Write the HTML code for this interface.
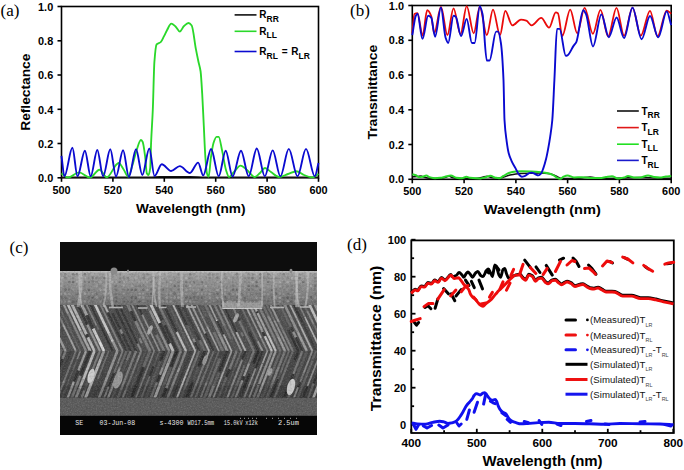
<!DOCTYPE html>
<html><head><meta charset="utf-8"><style>
html,body{margin:0;padding:0;background:#fff;overflow:hidden;width:684px;height:470px;}
svg{display:block;}
</style></head><body>
<svg width="684" height="470" viewBox="0 0 684 470">
<rect width="684" height="470" fill="#fff"/>
<g stroke="#000" stroke-width="1.6" fill="none">
<rect x="61.5" y="6.5" width="257.0" height="171.3"/>
<line x1="57.5" y1="177.8" x2="61.5" y2="177.8"/>
<line x1="57.5" y1="143.5" x2="61.5" y2="143.5"/>
<line x1="57.5" y1="109.3" x2="61.5" y2="109.3"/>
<line x1="57.5" y1="75.0" x2="61.5" y2="75.0"/>
<line x1="57.5" y1="40.8" x2="61.5" y2="40.8"/>
<line x1="57.5" y1="6.5" x2="61.5" y2="6.5"/>
<line x1="61.5" y1="177.8" x2="61.5" y2="181.8"/>
<line x1="112.9" y1="177.8" x2="112.9" y2="181.8"/>
<line x1="164.3" y1="177.8" x2="164.3" y2="181.8"/>
<line x1="215.7" y1="177.8" x2="215.7" y2="181.8"/>
<line x1="267.1" y1="177.8" x2="267.1" y2="181.8"/>
<line x1="318.5" y1="177.8" x2="318.5" y2="181.8"/>
</g>
<path d="M61.50,177.30 C91.00,177.27 120.50,177.29 150.00,177.20 C153.33,177.19 156.67,176.60 160.00,176.60 C170.00,176.60 180.00,176.60 190.00,176.60 C195.00,176.60 200.00,177.19 205.00,177.20 C242.83,177.29 280.67,177.27 318.50,177.30" stroke="#111" stroke-width="1.4" fill="none"/>
<path d="M61.50,173.40 C63.67,174.80 65.83,177.60 68.00,177.60 C71.67,177.60 75.33,172.30 79.00,172.30 C82.67,172.30 86.33,177.60 90.00,177.60 C93.17,177.60 96.33,169.70 99.50,169.70 C101.93,169.70 104.37,177.30 106.80,177.30 C110.20,177.30 113.60,166.23 117.00,163.90 C117.57,163.51 118.13,163.00 118.70,163.00 C120.40,163.00 122.10,167.33 123.80,169.80 C125.23,171.88 126.67,176.60 128.10,176.60 C129.57,176.60 131.03,169.48 132.50,165.00 C133.87,160.83 135.23,154.12 136.60,150.20 C138.03,146.09 139.47,140.00 140.90,140.00 C141.47,140.00 142.03,140.77 142.60,141.70 C143.43,143.06 144.27,149.98 145.10,156.20 C145.67,160.43 146.23,172.11 146.80,173.20 C147.37,174.29 147.93,175.00 148.50,175.00 C149.07,175.00 149.63,172.46 150.20,168.10 C150.50,165.79 150.80,149.62 151.10,142.60 C151.67,129.33 152.23,123.13 152.80,109.80 C153.33,97.26 153.87,68.81 154.40,61.90 C155.13,52.39 155.87,45.24 156.60,44.40 C157.97,42.83 159.33,43.29 160.70,42.10 C161.77,41.17 162.83,38.41 163.90,36.40 C164.97,34.39 166.03,31.87 167.10,30.00 C168.48,27.58 169.87,23.60 171.25,23.60 C172.67,23.60 174.08,25.27 175.50,26.50 C176.93,27.74 178.37,31.60 179.80,31.60 C181.20,31.60 182.60,27.25 184.00,26.00 C185.50,24.66 187.00,23.00 188.50,23.00 C189.57,23.00 190.63,24.08 191.70,25.50 C193.10,27.36 194.50,41.88 195.90,49.20 C196.77,53.73 197.63,57.92 198.50,62.00 C199.20,65.30 199.90,66.61 200.60,71.50 C201.13,75.23 201.67,85.04 202.20,93.80 C202.73,102.56 203.27,115.15 203.80,125.80 C204.33,136.45 204.87,150.63 205.40,157.70 C205.93,164.77 206.47,171.82 207.00,173.60 C207.53,175.38 208.07,176.80 208.60,176.80 C209.37,176.80 210.13,162.88 210.90,157.70 C211.77,151.85 212.63,145.65 213.50,143.00 C214.50,139.94 215.50,136.80 216.50,136.80 C217.23,136.80 217.97,136.80 218.70,136.80 C219.80,136.80 220.90,145.13 222.00,150.00 C223.33,155.90 224.67,165.83 226.00,170.00 C227.00,173.13 228.00,177.00 229.00,177.00 C230.67,177.00 232.33,173.64 234.00,172.00 C236.20,169.83 238.40,165.60 240.60,165.60 C242.73,165.60 244.87,168.36 247.00,170.00 C249.63,172.03 252.27,177.00 254.90,177.00 C256.60,177.00 258.30,174.50 260.00,173.00 C261.67,171.53 263.33,168.00 265.00,168.00 C267.00,168.00 269.00,170.71 271.00,172.00 C273.67,173.72 276.33,177.00 279.00,177.00 C282.00,177.00 285.00,174.99 288.00,174.00 C290.83,173.06 293.67,171.20 296.50,171.20 C299.00,171.20 301.50,174.03 304.00,175.00 C306.67,176.03 309.33,177.50 312.00,177.50 C314.17,177.50 316.33,175.17 318.50,174.00" stroke="#2ad82a" stroke-width="1.85" fill="none" stroke-linejoin="round"/>
<path d="M61.50,155.80 C62.47,162.63 63.43,176.30 64.40,176.30 C67.07,176.30 69.73,147.80 72.40,147.80 C74.10,147.80 75.80,176.30 77.50,176.30 C79.97,176.30 82.43,150.70 84.90,150.70 C86.83,150.70 88.77,176.30 90.70,176.30 C92.90,176.30 95.10,150.00 97.30,150.00 C99.23,150.00 101.17,176.30 103.10,176.30 C105.50,176.30 107.90,149.30 110.30,149.30 C112.20,149.30 114.10,176.50 116.00,176.50 C118.37,176.50 120.73,150.30 123.10,150.30 C125.03,150.30 126.97,177.00 128.90,177.00 C131.27,177.00 133.63,149.30 136.00,149.30 C138.10,149.30 140.20,175.00 142.30,175.00 C144.63,175.00 146.97,148.50 149.30,148.50 C151.03,148.50 152.77,176.00 154.50,176.00 C156.93,176.00 159.37,164.20 161.80,164.20 C164.90,164.20 168.00,171.00 171.10,171.00 C174.00,171.00 176.90,166.10 179.80,166.10 C183.17,166.10 186.53,173.00 189.90,173.00 C192.63,173.00 195.37,162.60 198.10,162.60 C199.80,162.60 201.50,175.40 203.20,175.40 C205.83,175.40 208.47,149.00 211.10,149.00 C213.63,149.00 216.17,176.30 218.70,176.30 C221.03,176.30 223.37,150.70 225.70,150.70 C228.00,150.70 230.30,176.50 232.60,176.50 C235.40,176.50 238.20,150.70 241.00,150.70 C243.57,150.70 246.13,176.30 248.70,176.30 C251.40,176.30 254.10,148.50 256.80,148.50 C259.47,148.50 262.13,176.30 264.80,176.30 C267.43,176.30 270.07,150.40 272.70,150.40 C275.27,150.40 277.83,176.30 280.40,176.30 C283.20,176.30 286.00,148.90 288.80,148.90 C291.70,148.90 294.60,176.30 297.50,176.30 C300.33,176.30 303.17,148.90 306.00,148.90 C308.93,148.90 311.87,176.30 314.80,176.30 C316.03,176.30 317.27,167.43 318.50,163.00" stroke="#0a0ad0" stroke-width="1.9" fill="none" stroke-linejoin="round"/>
<g font-family="Liberation Sans" font-weight="bold" font-size="10.9" fill="#000" text-anchor="end">
<text x="53.2" y="182.0">0.0</text>
<text x="53.2" y="147.7">0.2</text>
<text x="53.2" y="113.5">0.4</text>
<text x="53.2" y="79.2">0.6</text>
<text x="53.2" y="45.0">0.8</text>
<text x="53.2" y="10.7">1.0</text>
</g>
<g font-family="Liberation Sans" font-weight="bold" font-size="10.9" fill="#000" text-anchor="middle">
<text x="61.5" y="194">500</text>
<text x="112.9" y="194">520</text>
<text x="164.3" y="194">540</text>
<text x="215.7" y="194">560</text>
<text x="267.1" y="194">580</text>
<text x="318.5" y="194">600</text>
</g>
<text x="136" y="213" font-family="Liberation Sans" font-weight="bold" font-size="12.6" textLength="109.5" lengthAdjust="spacingAndGlyphs">Wavelength (nm)</text>
<text transform="translate(29.8,130.8) rotate(-90)" font-family="Liberation Sans" font-weight="bold" font-size="12.8" textLength="77.2" lengthAdjust="spacingAndGlyphs">Reflectance</text>
<text x="0.5" y="15.8" font-family="Liberation Serif" font-size="17">(a)</text>
<g stroke-width="1.6">
<line x1="234.6" y1="14.9" x2="256.5" y2="14.9" stroke="#111"/>
<line x1="234.6" y1="31.3" x2="256.5" y2="31.3" stroke="#2ad82a"/>
<line x1="234.6" y1="51.5" x2="256.5" y2="51.5" stroke="#0a0ad0"/>
</g>
<g font-family="Liberation Sans" font-weight="bold" fill="#000">
<text x="259.3" y="18.4" font-size="10">R<tspan font-size="8.5" dy="3.5">RR</tspan></text>
<text x="259.3" y="34.8" font-size="10">R<tspan font-size="8.5" dy="3.5">LL</tspan></text>
<text x="259.3" y="55" font-size="10">R<tspan font-size="8.5" dy="3.5">RL</tspan></text>
<text x="281.8" y="55" font-size="10">=</text>
<text x="291.3" y="55" font-size="10">R<tspan font-size="8.5" dy="3.5">LR</tspan></text>
</g>
<g stroke="#000" stroke-width="1.6" fill="none">
<rect x="412.3" y="5.5" width="258.9" height="173.8"/>
<line x1="408.3" y1="179.3" x2="412.3" y2="179.3"/>
<line x1="408.3" y1="144.5" x2="412.3" y2="144.5"/>
<line x1="408.3" y1="109.8" x2="412.3" y2="109.8"/>
<line x1="408.3" y1="75.0" x2="412.3" y2="75.0"/>
<line x1="408.3" y1="40.3" x2="412.3" y2="40.3"/>
<line x1="408.3" y1="5.5" x2="412.3" y2="5.5"/>
<line x1="412.3" y1="179.3" x2="412.3" y2="183.3"/>
<line x1="464.1" y1="179.3" x2="464.1" y2="183.3"/>
<line x1="515.9" y1="179.3" x2="515.9" y2="183.3"/>
<line x1="567.6" y1="179.3" x2="567.6" y2="183.3"/>
<line x1="619.4" y1="179.3" x2="619.4" y2="183.3"/>
<line x1="671.2" y1="179.3" x2="671.2" y2="183.3"/>
</g>
<path d="M412.30,176.80 C414.03,176.70 415.77,176.65 417.50,176.50 C418.67,176.40 419.83,176.00 421.00,176.00 C422.00,176.00 423.00,176.94 424.00,177.20 C426.00,177.72 428.00,178.26 430.00,178.30 C433.33,178.37 436.67,178.40 440.00,178.40 C442.17,178.40 444.33,177.52 446.50,177.00 C447.50,176.76 448.50,176.20 449.50,176.20 C450.33,176.20 451.17,177.33 452.00,177.50 C454.67,178.06 457.33,178.40 460.00,178.40 C465.00,178.40 470.00,178.40 475.00,178.40 C477.50,178.40 480.00,177.65 482.50,177.20 C484.00,176.93 485.50,176.30 487.00,176.30 C488.33,176.30 489.67,177.24 491.00,177.40 C494.00,177.75 497.00,178.00 500.00,178.00 C503.33,178.00 506.67,175.67 510.00,175.00 C513.33,174.33 516.67,173.66 520.00,173.50 C526.67,173.19 533.33,173.00 540.00,173.00 C543.33,173.00 546.67,173.34 550.00,173.80 C552.00,174.08 554.00,175.22 556.00,176.00 C558.00,176.78 560.00,178.50 562.00,178.50 C568.00,178.50 574.00,178.39 580.00,178.20 C583.33,178.09 586.67,177.00 590.00,177.00 C593.33,177.00 596.67,178.40 600.00,178.40 C606.67,178.40 613.33,178.16 620.00,178.00 C626.67,177.84 633.33,177.40 640.00,177.40 C646.67,177.40 653.33,178.20 660.00,178.20 C663.73,178.20 667.47,178.20 671.20,178.20" stroke="#111" stroke-width="1.5" fill="none"/>
<path d="M412.30,174.20 C413.47,174.57 414.63,174.84 415.80,175.30 C416.97,175.76 418.13,177.20 419.30,177.20 C420.37,177.20 421.43,176.99 422.50,176.80 C423.77,176.58 425.03,175.60 426.30,175.60 C427.53,175.60 428.77,176.97 430.00,177.30 C431.67,177.74 433.33,178.20 435.00,178.20 C436.80,178.20 438.60,178.00 440.40,177.80 C441.93,177.63 443.47,177.12 445.00,176.80 C446.97,176.39 448.93,175.60 450.90,175.60 C452.63,175.60 454.37,177.45 456.10,177.70 C458.07,177.98 460.03,178.20 462.00,178.20 C463.50,178.20 465.00,176.80 466.50,176.80 C467.67,176.80 468.83,177.64 470.00,177.80 C472.00,178.07 474.00,178.23 476.00,178.30 C477.57,178.35 479.13,178.40 480.70,178.40 C482.30,178.40 483.90,177.63 485.50,177.20 C487.13,176.76 488.77,175.80 490.40,175.80 C492.13,175.80 493.87,177.35 495.60,177.70 C496.77,177.93 497.93,178.20 499.10,178.20 C500.57,178.20 502.03,176.78 503.50,176.00 C505.27,175.06 507.03,173.53 508.80,173.00 C511.13,172.29 513.47,171.83 515.80,171.60 C517.80,171.40 519.80,171.20 521.80,171.20 C525.03,171.20 528.27,171.35 531.50,171.50 C534.73,171.65 537.97,171.95 541.20,172.30 C543.50,172.55 545.80,172.81 548.10,173.30 C549.97,173.70 551.83,174.50 553.70,175.40 C555.07,176.06 556.43,177.62 557.80,178.10 C558.73,178.43 559.67,178.80 560.60,178.80 C561.53,178.80 562.47,177.13 563.40,176.70 C564.77,176.07 566.13,175.40 567.50,175.40 C569.67,175.40 571.83,177.50 574.00,177.50 C576.67,177.50 579.33,177.20 582.00,177.20 C584.67,177.20 587.33,178.00 590.00,178.00 C593.33,178.00 596.67,178.00 600.00,178.00 C602.00,178.00 604.00,177.30 606.00,177.00 C608.00,176.70 610.00,176.20 612.00,176.20 C614.00,176.20 616.00,178.50 618.00,178.50 C620.00,178.50 622.00,177.97 624.00,177.50 C625.33,177.18 626.67,176.00 628.00,176.00 C630.00,176.00 632.00,177.50 634.00,177.50 C636.00,177.50 638.00,177.50 640.00,177.50 C642.67,177.50 645.33,175.50 648.00,175.50 C650.00,175.50 652.00,176.75 654.00,177.00 C656.00,177.25 658.00,177.50 660.00,177.50 C662.00,177.50 664.00,176.74 666.00,176.50 C667.73,176.29 669.47,176.17 671.20,176.00" stroke="#2ad82a" stroke-width="2" fill="none"/>
<path d="M412.30,33.30 C413.00,26.87 413.70,14.37 414.40,14.00 C415.43,13.45 416.47,13.20 417.50,13.20 C419.20,13.20 420.90,35.50 422.60,35.50 C424.13,35.50 425.67,10.20 427.20,10.20 C428.53,10.20 429.87,12.82 431.20,16.00 C432.20,18.39 433.20,33.30 434.20,33.30 C436.47,33.30 438.73,7.00 441.00,7.00 C443.13,7.00 445.27,35.10 447.40,35.10 C449.43,35.10 451.47,8.40 453.50,8.40 C455.83,8.40 458.17,34.20 460.50,34.20 C462.57,34.20 464.63,6.10 466.70,6.10 C469.03,6.10 471.37,33.30 473.70,33.30 C475.73,33.30 477.77,7.00 479.80,7.00 C482.13,7.00 484.47,35.10 486.80,35.10 C488.87,35.10 490.93,9.60 493.00,9.60 C495.33,9.60 497.67,35.10 500.00,35.10 C501.77,35.10 503.53,10.90 505.30,10.90 C507.63,10.90 509.97,25.40 512.30,25.40 C515.20,25.40 518.10,19.60 521.00,19.60 C522.77,19.60 524.53,20.11 526.30,20.70 C528.07,21.29 529.83,25.40 531.60,25.40 C534.80,25.40 538.00,17.90 541.20,17.90 C543.83,17.90 546.47,27.70 549.10,27.70 C551.33,27.70 553.57,12.30 555.80,12.30 C556.50,12.30 557.20,12.70 557.90,13.20 C559.37,14.26 560.83,36.00 562.30,36.00 C564.93,36.00 567.57,9.60 570.20,9.60 C572.53,9.60 574.87,33.30 577.20,33.30 C579.67,33.30 582.13,7.90 584.60,7.90 C587.37,7.90 590.13,33.80 592.90,33.80 C595.43,33.80 597.97,9.90 600.50,9.90 C603.03,9.90 605.57,36.50 608.10,36.50 C610.90,36.50 613.70,7.90 616.50,7.90 C619.03,7.90 621.57,35.70 624.10,35.70 C626.90,35.70 629.70,7.60 632.50,7.60 C635.27,7.60 638.03,35.70 640.80,35.70 C643.87,35.70 646.93,10.90 650.00,10.90 C652.50,10.90 655.00,36.50 657.50,36.50 C660.57,36.50 663.63,10.60 666.70,10.60 C668.20,10.60 669.70,12.67 671.20,13.70" stroke="#ea0a0a" stroke-width="1.8" fill="none" stroke-linejoin="round"/>
<path d="M412.30,35.10 C413.47,28.67 414.63,17.99 415.80,15.80 C416.37,14.73 416.93,13.70 417.50,13.70 C419.17,13.70 420.83,38.90 422.50,38.90 C424.37,38.90 426.23,15.80 428.10,15.80 C429.13,15.80 430.17,16.51 431.20,17.50 C432.50,18.75 433.80,36.80 435.10,36.80 C437.03,36.80 438.97,7.40 440.90,7.40 C442.47,7.40 444.03,33.08 445.60,37.70 C446.47,40.26 447.33,43.00 448.20,43.00 C449.97,43.00 451.73,15.80 453.50,15.80 C454.27,15.80 455.03,16.21 455.80,16.70 C457.53,17.81 459.27,36.00 461.00,36.00 C462.90,36.00 464.80,18.90 466.70,18.90 C468.43,18.90 470.17,43.00 471.90,43.00 C472.80,43.00 473.70,43.00 474.60,43.00 C476.33,43.00 478.07,6.10 479.80,6.10 C480.70,6.10 481.60,10.03 482.50,14.00 C483.93,20.32 485.37,60.50 486.80,60.50 C487.70,60.50 488.60,60.50 489.50,60.50 C491.70,60.50 493.90,31.60 496.10,31.60 C496.80,31.60 497.50,31.60 498.20,31.60 C499.10,31.60 500.00,37.12 500.90,43.00 C501.77,48.66 502.63,60.43 503.50,80.00 C503.83,87.53 504.17,114.30 504.50,120.00 C505.20,131.97 505.90,135.62 506.60,140.80 C507.30,145.98 508.00,150.55 508.70,153.20 C509.63,156.73 510.57,158.72 511.50,160.80 C512.87,163.85 514.23,165.90 515.60,168.40 C516.77,170.53 517.93,173.50 519.10,174.70 C520.00,175.63 520.90,176.70 521.80,176.70 C522.73,176.70 523.67,176.39 524.60,176.10 C526.00,175.66 527.40,173.81 528.80,173.30 C529.70,172.97 530.60,172.60 531.50,172.60 C532.67,172.60 533.83,173.53 535.00,174.00 C536.13,174.46 537.27,175.40 538.40,175.40 C539.33,175.40 540.27,174.39 541.20,173.30 C541.90,172.49 542.60,170.33 543.30,168.40 C544.23,165.83 545.17,162.59 546.10,158.80 C546.77,156.10 547.43,152.66 548.10,149.10 C548.80,145.36 549.50,141.35 550.20,136.60 C550.90,131.85 551.60,127.82 552.30,120.00 C553.00,112.18 553.70,93.53 554.40,80.00 C555.27,63.24 556.13,28.90 557.00,28.90 C557.87,28.90 558.73,28.90 559.60,28.90 C561.67,28.90 563.73,55.80 565.80,55.80 C566.37,55.80 566.93,55.55 567.50,55.30 C569.57,54.39 571.63,48.56 573.70,45.60 C574.57,44.36 575.43,43.76 576.30,42.10 C578.63,37.62 580.97,10.20 583.30,10.20 C584.20,10.20 585.10,12.20 586.00,14.00 C588.33,18.67 590.67,46.50 593.00,46.50 C595.80,46.50 598.60,14.40 601.40,14.40 C603.87,14.40 606.33,37.20 608.80,37.20 C611.40,37.20 614.00,17.50 616.60,17.50 C619.10,17.50 621.60,38.00 624.10,38.00 C626.90,38.00 629.70,7.60 632.50,7.60 C635.53,7.60 638.57,39.20 641.60,39.20 C644.40,39.20 647.20,16.00 650.00,16.00 C652.77,16.00 655.53,37.30 658.30,37.30 C661.10,37.30 663.90,11.40 666.70,11.40 C668.20,11.40 669.70,20.53 671.20,25.10" stroke="#0a0ad0" stroke-width="1.9" fill="none" stroke-linejoin="round"/>
<g font-family="Liberation Sans" font-weight="bold" font-size="10.9" fill="#000" text-anchor="end">
<text x="404" y="183.4">0.0</text>
<text x="404" y="148.6">0.2</text>
<text x="404" y="113.9">0.4</text>
<text x="404" y="79.1">0.6</text>
<text x="404" y="44.4">0.8</text>
<text x="404" y="9.6">1.0</text>
</g>
<g font-family="Liberation Sans" font-weight="bold" font-size="10.9" fill="#000" text-anchor="middle">
<text x="412.3" y="194.9">500</text>
<text x="464.1" y="194.9">520</text>
<text x="515.9" y="194.9">540</text>
<text x="567.6" y="194.9">560</text>
<text x="619.4" y="194.9">580</text>
<text x="671.2" y="194.9">600</text>
</g>
<text x="483.8" y="214.4" font-family="Liberation Sans" font-weight="bold" font-size="13.2" textLength="117" lengthAdjust="spacingAndGlyphs">Wavelength (nm)</text>
<text transform="translate(376.9,139.6) rotate(-90)" font-family="Liberation Sans" font-weight="bold" font-size="13.4" textLength="94.8" lengthAdjust="spacingAndGlyphs">Transmittance</text>
<text x="350.1" y="16" font-family="Liberation Serif" font-size="17">(b)</text>
<g stroke-width="1.6">
<line x1="617" y1="111" x2="638.8" y2="111" stroke="#111"/>
<line x1="617" y1="127.6" x2="638.8" y2="127.6" stroke="#e01818"/>
<line x1="617" y1="144.2" x2="638.8" y2="144.2" stroke="#22e022"/>
<line x1="617" y1="160.4" x2="638.8" y2="160.4" stroke="#1a1acc"/>
</g>
<g font-family="Liberation Sans" font-weight="bold" fill="#000">
<text x="641.5" y="114.6" font-size="10">T<tspan font-size="8.5" dy="3.5">RR</tspan></text>
<text x="641.5" y="131.2" font-size="10">T<tspan font-size="8.5" dy="3.5">LR</tspan></text>
<text x="641.5" y="147.8" font-size="10">T<tspan font-size="8.5" dy="3.5">LL</tspan></text>
<text x="641.5" y="164.0" font-size="10">T<tspan font-size="8.5" dy="3.5">RL</tspan></text>
</g>
<g stroke="#000" stroke-width="1.8" fill="none">
<rect x="411.3" y="240.4" width="262.5" height="192.6"/>
<line x1="411.3" y1="424.7" x2="415.5" y2="424.7"/>
<line x1="411.3" y1="406.2" x2="414.1" y2="406.2"/>
<line x1="411.3" y1="387.7" x2="415.5" y2="387.7"/>
<line x1="411.3" y1="369.2" x2="414.1" y2="369.2"/>
<line x1="411.3" y1="350.7" x2="415.5" y2="350.7"/>
<line x1="411.3" y1="332.2" x2="414.1" y2="332.2"/>
<line x1="411.3" y1="313.7" x2="415.5" y2="313.7"/>
<line x1="411.3" y1="295.2" x2="414.1" y2="295.2"/>
<line x1="411.3" y1="276.7" x2="415.5" y2="276.7"/>
<line x1="411.3" y1="258.2" x2="414.1" y2="258.2"/>
<line x1="411.3" y1="239.7" x2="415.5" y2="239.7"/>
<line x1="411.3" y1="433.0" x2="411.3" y2="428.8"/>
<line x1="444.1" y1="433.0" x2="444.1" y2="430.2"/>
<line x1="476.8" y1="433.0" x2="476.8" y2="428.8"/>
<line x1="509.6" y1="433.0" x2="509.6" y2="430.2"/>
<line x1="542.3" y1="433.0" x2="542.3" y2="428.8"/>
<line x1="575.0" y1="433.0" x2="575.0" y2="430.2"/>
<line x1="607.8" y1="433.0" x2="607.8" y2="428.8"/>
<line x1="640.5" y1="433.0" x2="640.5" y2="430.2"/>
<line x1="673.3" y1="433.0" x2="673.3" y2="428.8"/>
</g>
<path d="M411.20,292.70 C412.50,291.57 413.80,289.30 415.10,289.30 C415.97,289.30 416.83,290.20 417.70,290.20 C418.83,290.20 419.97,285.90 421.10,285.90 C422.23,285.90 423.37,286.40 424.50,286.40 C425.63,286.40 426.77,282.50 427.90,282.50 C429.03,282.50 430.17,283.40 431.30,283.40 C432.43,283.40 433.57,280.00 434.70,280.00 C435.83,280.00 436.97,281.70 438.10,281.70 C439.23,281.70 440.37,277.40 441.50,277.40 C442.63,277.40 443.77,280.00 444.90,280.00 C446.90,280.00 448.90,274.50 450.90,274.50 C451.27,274.50 451.63,276.50 452.00,276.50 C453.40,276.50 454.80,276.06 456.20,275.50 C457.17,275.11 458.13,272.50 459.10,272.50 C460.07,272.50 461.03,273.91 462.00,274.90 C462.60,275.51 463.20,277.20 463.80,277.20 C464.57,277.20 465.33,274.59 466.10,273.70 C466.70,273.01 467.30,272.00 467.90,272.00 C468.67,272.00 469.43,273.44 470.20,274.30 C470.97,275.16 471.73,277.20 472.50,277.20 C473.50,277.20 474.50,274.05 475.50,273.10 C476.27,272.37 477.03,271.40 477.80,271.40 C478.77,271.40 479.73,274.84 480.70,275.50 C481.50,276.05 482.30,276.60 483.10,276.60 C484.07,276.60 485.03,272.66 486.00,271.40 C486.77,270.40 487.53,269.00 488.30,269.00 C489.10,269.00 489.90,271.60 490.70,273.10 C491.27,274.16 491.83,276.60 492.40,276.60 C493.20,276.60 494.00,264.90 494.80,264.90 C495.37,264.90 495.93,266.01 496.50,267.00 C497.30,268.40 498.10,273.40 498.90,274.90 C499.47,275.96 500.03,277.20 500.60,277.20 C501.40,277.20 502.20,270.43 503.00,269.60 C503.57,269.01 504.13,268.50 504.70,268.50 C505.30,268.50 505.90,272.25 506.50,273.70 C507.27,275.55 508.03,278.40 508.80,278.40 C509.57,278.40 510.33,277.58 511.10,277.20 C512.57,276.47 514.03,275.51 515.50,275.10 C517.03,274.67 518.57,274.20 520.10,274.20 C520.93,274.20 521.77,276.47 522.60,277.20 C523.63,278.10 524.67,279.30 525.70,279.30 C526.73,279.30 527.77,274.20 528.80,274.20 C530.00,274.20 531.20,274.90 532.40,275.70 C533.40,276.37 534.40,280.30 535.40,280.30 C536.43,280.30 537.47,278.12 538.50,277.80 C539.53,277.48 540.57,277.20 541.60,277.20 C542.80,277.20 544.00,280.44 545.20,281.30 C546.20,282.02 547.20,282.90 548.20,282.90 C549.57,282.90 550.93,280.15 552.30,279.80 C553.33,279.53 554.37,279.30 555.40,279.30 C556.43,279.30 557.47,281.13 558.50,281.90 C559.50,282.64 560.50,283.90 561.50,283.90 C563.33,283.90 565.17,281.10 567.00,281.10 C568.33,281.10 569.67,281.93 571.00,282.60 C572.33,283.27 573.67,285.60 575.00,285.60 C576.67,285.60 578.33,284.45 580.00,284.10 C581.00,283.89 582.00,283.60 583.00,283.60 C584.33,283.60 585.67,285.36 587.00,286.10 C588.00,286.65 589.00,287.39 590.00,287.60 C591.33,287.87 592.67,288.10 594.00,288.10 C595.33,288.10 596.67,287.10 598.00,287.10 C599.33,287.10 600.67,288.43 602.00,289.10 C603.33,289.77 604.67,291.10 606.00,291.10 C608.00,291.10 610.00,291.10 612.00,291.10 C613.00,291.10 614.00,291.25 615.00,291.40 C617.57,291.79 620.13,295.20 622.70,295.20 C625.67,295.20 628.63,295.20 631.60,295.20 C634.57,295.20 637.53,297.70 640.50,297.70 C643.07,297.70 645.63,297.70 648.20,297.70 C650.77,297.70 653.33,298.48 655.90,299.00 C658.43,299.51 660.97,300.33 663.50,300.90 C666.83,301.64 670.17,302.23 673.50,302.90" stroke="#000" stroke-width="2.9" fill="none" stroke-linejoin="round"/>
<path d="M411.20,293.40 C412.50,292.27 413.80,290.00 415.10,290.00 C415.97,290.00 416.83,290.90 417.70,290.90 C418.83,290.90 419.97,286.60 421.10,286.60 C422.23,286.60 423.37,287.10 424.50,287.10 C425.63,287.10 426.77,283.20 427.90,283.20 C429.03,283.20 430.17,284.10 431.30,284.10 C432.43,284.10 433.57,280.70 434.70,280.70 C435.83,280.70 436.97,282.40 438.10,282.40 C439.23,282.40 440.37,278.10 441.50,278.10 C442.63,278.10 443.77,280.70 444.90,280.70 C446.90,280.70 448.90,275.20 450.90,275.20 C452.03,275.20 453.17,278.60 454.30,278.60 C455.70,278.60 457.10,277.80 458.50,277.80 C459.27,277.80 460.03,279.20 460.80,280.10 C461.70,281.16 462.60,282.93 463.50,284.00 C464.57,285.27 465.63,286.00 466.70,287.20 C467.47,288.06 468.23,288.69 469.00,290.10 C469.40,290.83 469.80,292.77 470.20,293.60 C470.97,295.19 471.73,296.31 472.50,297.10 C473.50,298.13 474.50,298.42 475.50,299.40 C476.27,300.15 477.03,301.53 477.80,302.40 C478.77,303.50 479.73,304.74 480.70,305.30 C481.50,305.76 482.30,306.30 483.10,306.30 C483.87,306.30 484.63,304.77 485.40,304.10 C486.37,303.26 487.33,302.57 488.30,301.80 C489.30,301.00 490.30,300.36 491.30,299.40 C492.27,298.47 493.23,297.07 494.20,295.90 C495.17,294.73 496.13,293.46 497.10,292.40 C498.27,291.12 499.43,290.07 500.60,288.90 C501.77,287.73 502.93,286.57 504.10,285.40 C505.27,284.23 506.43,283.07 507.60,281.90 C508.77,280.73 509.93,279.41 511.10,278.40 C512.57,277.14 514.03,275.10 515.50,275.10 C517.03,275.10 518.57,275.10 520.10,275.10 C520.93,275.10 521.77,277.37 522.60,278.10 C523.63,279.00 524.67,280.20 525.70,280.20 C526.73,280.20 527.77,275.10 528.80,275.10 C530.00,275.10 531.20,275.80 532.40,276.60 C533.40,277.27 534.40,281.20 535.40,281.20 C536.43,281.20 537.47,279.02 538.50,278.70 C539.53,278.38 540.57,278.10 541.60,278.10 C542.80,278.10 544.00,281.34 545.20,282.20 C546.20,282.92 547.20,283.80 548.20,283.80 C549.57,283.80 550.93,281.05 552.30,280.70 C553.33,280.43 554.37,280.20 555.40,280.20 C556.43,280.20 557.47,282.03 558.50,282.80 C559.50,283.54 560.50,284.80 561.50,284.80 C563.33,284.80 565.17,282.00 567.00,282.00 C568.33,282.00 569.67,282.83 571.00,283.50 C572.33,284.17 573.67,286.50 575.00,286.50 C576.67,286.50 578.33,285.35 580.00,285.00 C581.00,284.79 582.00,284.50 583.00,284.50 C584.33,284.50 585.67,286.26 587.00,287.00 C588.00,287.55 589.00,288.29 590.00,288.50 C591.33,288.77 592.67,289.00 594.00,289.00 C595.33,289.00 596.67,288.00 598.00,288.00 C599.33,288.00 600.67,289.33 602.00,290.00 C603.33,290.67 604.67,292.00 606.00,292.00 C608.00,292.00 610.00,292.00 612.00,292.00 C613.00,292.00 614.00,292.15 615.00,292.30 C617.57,292.69 620.13,296.10 622.70,296.10 C625.67,296.10 628.63,296.10 631.60,296.10 C634.57,296.10 637.53,298.60 640.50,298.60 C643.07,298.60 645.63,298.60 648.20,298.60 C650.77,298.60 653.33,299.38 655.90,299.90 C658.43,300.41 660.97,301.23 663.50,301.80 C666.83,302.54 670.17,303.13 673.50,303.80" stroke="#ee0c0c" stroke-width="2.9" fill="none" stroke-linejoin="round"/>
<path d="M414.4,322.5 L416.5,325.2 L418.6,322.5" stroke="#000" stroke-width="3.0" fill="none" stroke-linecap="round" stroke-linejoin="round"/>
<path d="M425.0,307.5 L428.0,305.8 L430.9,308.7" stroke="#000" stroke-width="3.0" fill="none" stroke-linecap="round" stroke-linejoin="round"/>
<path d="M435.1,308.2 L437.8,299.1" stroke="#000" stroke-width="3.0" fill="none" stroke-linecap="round" stroke-linejoin="round"/>
<path d="M443.6,288.5 L448.4,293.8" stroke="#000" stroke-width="3.0" fill="none" stroke-linecap="round" stroke-linejoin="round"/>
<path d="M451.1,293.8 L454.8,300.7" stroke="#000" stroke-width="3.0" fill="none" stroke-linecap="round" stroke-linejoin="round"/>
<path d="M456.0,296.0 L461.2,289.6" stroke="#000" stroke-width="3.0" fill="none" stroke-linecap="round" stroke-linejoin="round"/>
<path d="M465.5,280.1 L469.0,285.4" stroke="#000" stroke-width="3.0" fill="none" stroke-linecap="round" stroke-linejoin="round"/>
<path d="M471.4,281.3 L474.3,287.7" stroke="#000" stroke-width="3.0" fill="none" stroke-linecap="round" stroke-linejoin="round"/>
<path d="M479.0,280.1 L482.5,288.9" stroke="#000" stroke-width="3.0" fill="none" stroke-linecap="round" stroke-linejoin="round"/>
<path d="M486.0,271.0 L489.0,273.0" stroke="#000" stroke-width="3.0" fill="none" stroke-linecap="round" stroke-linejoin="round"/>
<path d="M496.0,266.0 L499.0,270.0" stroke="#000" stroke-width="3.0" fill="none" stroke-linecap="round" stroke-linejoin="round"/>
<path d="M524.7,260.2 L530.3,267.4" stroke="#000" stroke-width="3.0" fill="none" stroke-linecap="round" stroke-linejoin="round"/>
<path d="M536.0,266.9 L540.0,272.5" stroke="#000" stroke-width="3.0" fill="none" stroke-linecap="round" stroke-linejoin="round"/>
<path d="M546.2,265.4 L552.3,275.1" stroke="#000" stroke-width="3.0" fill="none" stroke-linecap="round" stroke-linejoin="round"/>
<path d="M559.5,260.2 L563.6,258.2" stroke="#000" stroke-width="3.0" fill="none" stroke-linecap="round" stroke-linejoin="round"/>
<path d="M573.0,258.0 L576.0,261.0 L579.0,266.5" stroke="#000" stroke-width="3.0" fill="none" stroke-linecap="round" stroke-linejoin="round"/>
<path d="M588.5,265.0 L592.0,268.5 L596.0,274.2" stroke="#000" stroke-width="3.0" fill="none" stroke-linecap="round" stroke-linejoin="round"/>
<path d="M610.0,261.5 L612.5,263.0" stroke="#000" stroke-width="3.0" fill="none" stroke-linecap="round" stroke-linejoin="round"/>
<path d="M624.0,257.5 L627.8,259.3" stroke="#000" stroke-width="3.0" fill="none" stroke-linecap="round" stroke-linejoin="round"/>
<path d="M645.0,266.5 L648.2,268.9" stroke="#000" stroke-width="3.0" fill="none" stroke-linecap="round" stroke-linejoin="round"/>
<path d="M667.0,263.8 L671.0,263.3" stroke="#000" stroke-width="3.0" fill="none" stroke-linecap="round" stroke-linejoin="round"/>
<path d="M411.2,321.5 L415.0,320.3 L420.2,318.6" stroke="#ee0c0c" stroke-width="3.0" fill="none" stroke-linecap="round" stroke-linejoin="round"/>
<path d="M424.0,306.6 L428.2,303.6 L433.0,303.6" stroke="#ee0c0c" stroke-width="3.0" fill="none" stroke-linecap="round" stroke-linejoin="round"/>
<path d="M437.8,299.1 L444.2,289.6" stroke="#ee0c0c" stroke-width="3.0" fill="none" stroke-linecap="round" stroke-linejoin="round"/>
<path d="M450.6,296.0 L455.9,290.1" stroke="#ee0c0c" stroke-width="3.0" fill="none" stroke-linecap="round" stroke-linejoin="round"/>
<path d="M461.2,291.7 L464.5,287.5 L468.0,285.5" stroke="#ee0c0c" stroke-width="3.0" fill="none" stroke-linecap="round" stroke-linejoin="round"/>
<path d="M473.7,297.1 L476.6,300.6" stroke="#ee0c0c" stroke-width="3.0" fill="none" stroke-linecap="round" stroke-linejoin="round"/>
<path d="M481.0,304.0 L486.0,303.0" stroke="#ee0c0c" stroke-width="3.0" fill="none" stroke-linecap="round" stroke-linejoin="round"/>
<path d="M489.5,297.1 L492.4,292.4" stroke="#ee0c0c" stroke-width="3.0" fill="none" stroke-linecap="round" stroke-linejoin="round"/>
<path d="M500.0,288.9 L503.0,281.9" stroke="#ee0c0c" stroke-width="3.0" fill="none" stroke-linecap="round" stroke-linejoin="round"/>
<path d="M506.5,290.1 L510.0,283.1" stroke="#ee0c0c" stroke-width="3.0" fill="none" stroke-linecap="round" stroke-linejoin="round"/>
<path d="M510.8,275.6 L513.6,269.4" stroke="#ee0c0c" stroke-width="3.0" fill="none" stroke-linecap="round" stroke-linejoin="round"/>
<path d="M519.6,274.6 L523.1,264.3" stroke="#ee0c0c" stroke-width="3.0" fill="none" stroke-linecap="round" stroke-linejoin="round"/>
<path d="M530.3,267.4 L535.9,273.5" stroke="#ee0c0c" stroke-width="3.0" fill="none" stroke-linecap="round" stroke-linejoin="round"/>
<path d="M543.1,274.6 L547.2,268.4" stroke="#ee0c0c" stroke-width="3.0" fill="none" stroke-linecap="round" stroke-linejoin="round"/>
<path d="M555.4,271.5 L560.5,261.3" stroke="#ee0c0c" stroke-width="3.0" fill="none" stroke-linecap="round" stroke-linejoin="round"/>
<path d="M567.0,265.0 L572.0,260.5 L575.0,261.5" stroke="#ee0c0c" stroke-width="3.0" fill="none" stroke-linecap="round" stroke-linejoin="round"/>
<path d="M584.5,268.5 L589.0,268.0 L593.0,271.5 L595.5,274.2" stroke="#ee0c0c" stroke-width="3.0" fill="none" stroke-linecap="round" stroke-linejoin="round"/>
<path d="M602.5,266.0 L607.0,261.0 L612.0,262.5" stroke="#ee0c0c" stroke-width="3.0" fill="none" stroke-linecap="round" stroke-linejoin="round"/>
<path d="M622.7,257.1 L627.8,259.0 L632.9,262.9" stroke="#ee0c0c" stroke-width="3.0" fill="none" stroke-linecap="round" stroke-linejoin="round"/>
<path d="M643.7,265.4 L648.2,268.6 L652.7,271.2" stroke="#ee0c0c" stroke-width="3.0" fill="none" stroke-linecap="round" stroke-linejoin="round"/>
<path d="M664.8,264.2 L668.6,262.9 L673.7,262.2" stroke="#ee0c0c" stroke-width="3.0" fill="none" stroke-linecap="round" stroke-linejoin="round"/>
<path d="M411.70,422.90 C413.57,423.23 415.43,423.78 417.30,423.90 C420.03,424.07 422.77,424.20 425.50,424.20 C427.87,424.20 430.23,422.88 432.60,422.40 C435.00,421.92 437.40,421.20 439.80,421.20 C441.17,421.20 442.53,421.58 443.90,421.90 C445.27,422.22 446.63,423.40 448.00,423.40 C449.33,423.40 450.67,423.08 452.00,422.80 C453.00,422.59 454.00,422.28 455.00,421.80 C455.97,421.34 456.93,420.40 457.90,419.40 C458.83,418.44 459.77,416.99 460.70,415.60 C461.67,414.16 462.63,412.46 463.60,410.80 C464.57,409.14 465.53,406.97 466.50,405.60 C467.47,404.23 468.43,403.34 469.40,402.20 C470.33,401.10 471.27,400.24 472.20,398.90 C472.83,397.99 473.47,396.29 474.10,395.50 C474.77,394.67 475.43,393.60 476.10,393.60 C476.73,393.60 477.37,393.91 478.00,394.10 C478.80,394.35 479.60,395.00 480.40,395.00 C481.20,395.00 482.00,393.36 482.80,393.10 C483.43,392.89 484.07,392.70 484.70,392.70 C485.33,392.70 485.97,393.85 486.60,394.60 C487.23,395.35 487.87,396.62 488.50,397.40 C489.13,398.18 489.77,399.04 490.40,399.40 C491.20,399.85 492.00,400.30 492.80,400.30 C493.60,400.30 494.40,399.40 495.20,399.40 C495.67,399.40 496.13,400.44 496.60,401.30 C497.10,402.22 497.60,404.41 498.10,405.60 C498.73,407.10 499.37,408.52 500.00,409.40 C500.93,410.70 501.87,411.68 502.80,412.30 C503.77,412.94 504.73,412.96 505.70,413.70 C506.33,414.18 506.97,415.65 507.60,416.60 C508.23,417.55 508.87,418.79 509.50,419.40 C510.47,420.33 511.43,420.96 512.40,421.40 C513.60,421.95 514.80,422.25 516.00,422.60 C517.57,423.06 519.13,423.80 520.70,423.80 C523.03,423.80 525.37,423.63 527.70,423.50 C531.20,423.30 534.70,422.75 538.20,422.60 C541.73,422.45 545.27,422.30 548.80,422.30 C552.53,422.30 556.27,423.50 560.00,423.50 C565.00,423.50 570.00,423.50 575.00,423.50 C580.00,423.50 585.00,423.69 590.00,423.80 C595.00,423.91 600.00,424.20 605.00,424.20 C610.00,424.20 615.00,423.50 620.00,423.50 C626.67,423.50 633.33,423.72 640.00,423.80 C646.67,423.88 653.33,423.88 660.00,424.00 C664.50,424.08 669.00,424.53 673.50,424.80" stroke="#1010ee" stroke-width="2.9" fill="none" stroke-linejoin="round"/>
<path d="M413.5,424.5 L416.0,429.3 L418.5,425.0" stroke="#1010ee" stroke-width="3.0" fill="none" stroke-linecap="round" stroke-linejoin="round"/>
<path d="M423.4,426.0 L427.0,428.0 L431.6,425.5" stroke="#1010ee" stroke-width="3.0" fill="none" stroke-linecap="round" stroke-linejoin="round"/>
<path d="M438.8,425.0 L443.0,428.0 L448.0,425.0" stroke="#1010ee" stroke-width="3.0" fill="none" stroke-linecap="round" stroke-linejoin="round"/>
<path d="M456.9,423.0 L459.0,426.0 L461.2,424.0" stroke="#1010ee" stroke-width="3.0" fill="none" stroke-linecap="round" stroke-linejoin="round"/>
<path d="M466.8,419.4 L469.4,410.0" stroke="#1010ee" stroke-width="3.0" fill="none" stroke-linecap="round" stroke-linejoin="round"/>
<path d="M474.1,412.3 L477.5,402.2" stroke="#1010ee" stroke-width="3.0" fill="none" stroke-linecap="round" stroke-linejoin="round"/>
<path d="M483.6,404.1 L485.6,394.6" stroke="#1010ee" stroke-width="3.0" fill="none" stroke-linecap="round" stroke-linejoin="round"/>
<path d="M490.4,401.3 L493.0,402.8 L495.2,403.7" stroke="#1010ee" stroke-width="3.0" fill="none" stroke-linecap="round" stroke-linejoin="round"/>
<path d="M501.9,412.8 L505.7,415.6" stroke="#1010ee" stroke-width="3.0" fill="none" stroke-linecap="round" stroke-linejoin="round"/>
<path d="M507.2,419.4 L510.5,422.3" stroke="#1010ee" stroke-width="3.0" fill="none" stroke-linecap="round" stroke-linejoin="round"/>
<path d="M524.2,421.5 L528.6,422.6" stroke="#1010ee" stroke-width="3.0" fill="none" stroke-linecap="round" stroke-linejoin="round"/>
<path d="M539.1,420.5 L541.8,424.4" stroke="#1010ee" stroke-width="3.0" fill="none" stroke-linecap="round" stroke-linejoin="round"/>
<path d="M557.0,424.0 L561.0,425.5" stroke="#1010ee" stroke-width="3.0" fill="none" stroke-linecap="round" stroke-linejoin="round"/>
<path d="M586.5,421.5 L591.0,420.5" stroke="#1010ee" stroke-width="3.0" fill="none" stroke-linecap="round" stroke-linejoin="round"/>
<path d="M605.0,424.0 L609.0,424.5" stroke="#1010ee" stroke-width="3.0" fill="none" stroke-linecap="round" stroke-linejoin="round"/>
<path d="M640.0,422.0 L645.0,421.5" stroke="#1010ee" stroke-width="3.0" fill="none" stroke-linecap="round" stroke-linejoin="round"/>
<path d="M665.0,424.5 L671.0,426.0" stroke="#1010ee" stroke-width="3.0" fill="none" stroke-linecap="round" stroke-linejoin="round"/>
<g font-family="Liberation Sans" font-weight="bold" font-size="11" fill="#000" text-anchor="end">
<text x="406.2" y="428.6">0</text>
<text x="406.2" y="391.6">20</text>
<text x="406.2" y="354.6">40</text>
<text x="406.2" y="317.6">60</text>
<text x="406.2" y="280.6">80</text>
<text x="406.2" y="243.6">100</text>
</g>
<g font-family="Liberation Sans" font-weight="bold" font-size="11.8" fill="#000" text-anchor="middle">
<text x="411.3" y="447">400</text>
<text x="476.8" y="447">500</text>
<text x="542.3" y="447">600</text>
<text x="607.8" y="447">700</text>
<text x="673.3" y="447">800</text>
</g>
<text x="482.6" y="466" font-family="Liberation Sans" font-weight="bold" font-size="15" textLength="120" lengthAdjust="spacingAndGlyphs">Wavelength (nm)</text>
<text transform="translate(380.9,411.2) rotate(-90)" font-family="Liberation Sans" font-weight="bold" font-size="15.2" textLength="145.4" lengthAdjust="spacingAndGlyphs">Transmittance (nm)</text>
<text x="347" y="249.5" font-family="Liberation Serif" font-size="17">(d)</text>
<line x1="566" y1="319.9" x2="575.5" y2="319.9" stroke="#000" stroke-width="3" stroke-linecap="round"/>
<circle cx="587.4" cy="319.9" r="1.4" fill="#000"/>
<text x="590" y="323.4" font-family="Liberation Sans" font-size="9.6" fill="#111" letter-spacing="0.05">(Measured)T<tspan font-size="5.4" dy="3.5" fill="#444">LR</tspan></text>
<line x1="566" y1="335.1" x2="575.5" y2="335.1" stroke="#ee1111" stroke-width="3" stroke-linecap="round"/>
<circle cx="587.4" cy="335.1" r="1.4" fill="#ee1111"/>
<text x="590" y="338.6" font-family="Liberation Sans" font-size="9.6" fill="#111" letter-spacing="0.05">(Measured)T<tspan font-size="5.4" dy="3.5" fill="#444">RL</tspan></text>
<line x1="566" y1="349.8" x2="575.5" y2="349.8" stroke="#1515ee" stroke-width="3" stroke-linecap="round"/>
<circle cx="587.4" cy="349.8" r="1.4" fill="#1515ee"/>
<text x="590" y="353.3" font-family="Liberation Sans" font-size="9.6" fill="#111" letter-spacing="0.05">(Measured)T<tspan font-size="5.4" dy="3.5" fill="#444">LR</tspan><tspan dy="-3.5">-T</tspan><tspan font-size="5.4" dy="3.5" fill="#444">RL</tspan></text>
<line x1="565.5" y1="364.3" x2="587.5" y2="364.3" stroke="#000" stroke-width="3"/>
<text x="590" y="367.8" font-family="Liberation Sans" font-size="9.6" fill="#111" letter-spacing="0.05">(Simulated)T<tspan font-size="5.4" dy="3.5" fill="#444">LR</tspan></text>
<line x1="565.5" y1="379.5" x2="587.5" y2="379.5" stroke="#ee1111" stroke-width="3"/>
<text x="590" y="383.0" font-family="Liberation Sans" font-size="9.6" fill="#111" letter-spacing="0.05">(Simulated)T<tspan font-size="5.4" dy="3.5" fill="#444">RL</tspan></text>
<line x1="565.5" y1="394.2" x2="587.5" y2="394.2" stroke="#1515ee" stroke-width="3"/>
<text x="590" y="397.7" font-family="Liberation Sans" font-size="9.6" fill="#111" letter-spacing="0.05">(Simulated)T<tspan font-size="5.4" dy="3.5" fill="#444">LR</tspan><tspan dy="-3.5">-T</tspan><tspan font-size="5.4" dy="3.5" fill="#444">RL</tspan></text>
<text x="9.5" y="253" font-family="Liberation Serif" font-size="17">(c)</text>
<defs>
<filter id="nz" x="0" y="0" width="1" height="1" filterUnits="objectBoundingBox"><feTurbulence type="fractalNoise" baseFrequency="0.8" numOctaves="2" seed="5" result="t"/><feColorMatrix in="t" type="matrix" values="0 0 0 0 1  0 0 0 0 1  0 0 0 0 1  1.6 0 0 0 -0.7" result="w"/><feComposite in="w" in2="SourceGraphic" operator="in"/></filter>
<filter id="nzd" x="0" y="0" width="1" height="1" filterUnits="objectBoundingBox"><feTurbulence type="fractalNoise" baseFrequency="0.5" numOctaves="2" seed="11" result="t"/><feColorMatrix in="t" type="matrix" values="0 0 0 0 0  0 0 0 0 0  0 0 0 0 0  1.8 0 0 0 -0.8" result="w"/><feComposite in="w" in2="SourceGraphic" operator="in"/></filter>
<filter id="sblur" x="-5%" y="-5%" width="110%" height="110%"><feGaussianBlur stdDeviation="0.65"/></filter>
<linearGradient id="filmg" x1="0" y1="0" x2="0" y2="1"><stop offset="0" stop-color="#a6a6a6"/><stop offset="0.2" stop-color="#989898"/><stop offset="1" stop-color="#707070"/></linearGradient>
<clipPath id="semclip"><rect x="60" y="242" width="257" height="193"/></clipPath>
<clipPath id="chevclip"><rect x="60" y="304" width="257" height="93.5"/></clipPath>
</defs>
<g clip-path="url(#semclip)">
<rect x="60" y="242" width="257" height="193" fill="#0d0d0d"/>
<g filter="url(#sblur)">
<g clip-path="url(#chevclip)">
<rect x="60" y="303" width="257" height="94.5" fill="#505050"/>
<line x1="29.0" y1="303.0" x2="33.6" y2="312.6" stroke="#909090" stroke-width="2.7"/>
<line x1="33.6" y1="312.6" x2="42.9" y2="332.1" stroke="#737373" stroke-width="2.7"/>
<line x1="42.9" y1="332.1" x2="52.0" y2="351.0" stroke="#727272" stroke-width="2.7"/>
<line x1="52.0" y1="351.0" x2="45.9" y2="366.4" stroke="#373737" stroke-width="2.7"/>
<line x1="45.9" y1="366.4" x2="33.0" y2="399.5" stroke="#919191" stroke-width="2.7"/>
<line x1="33.9" y1="303.0" x2="38.2" y2="311.9" stroke="#bfbfbf" stroke-width="2.7"/>
<line x1="38.2" y1="311.9" x2="40.9" y2="317.6" stroke="#b7b7b7" stroke-width="2.7"/>
<line x1="40.9" y1="317.6" x2="46.8" y2="329.9" stroke="#c0c0c0" stroke-width="2.7"/>
<line x1="46.8" y1="329.9" x2="56.9" y2="351.0" stroke="#373737" stroke-width="2.7"/>
<line x1="56.9" y1="351.0" x2="49.1" y2="370.9" stroke="#373737" stroke-width="2.7"/>
<line x1="49.1" y1="370.9" x2="46.8" y2="376.9" stroke="#aaaaaa" stroke-width="2.7"/>
<line x1="46.8" y1="376.9" x2="45.6" y2="380.0" stroke="#b7b7b7" stroke-width="2.7"/>
<line x1="45.6" y1="380.0" x2="37.9" y2="399.5" stroke="#c1c1c1" stroke-width="2.7"/>
<line x1="38.3" y1="303.0" x2="43.0" y2="313.0" stroke="#606060" stroke-width="2.4"/>
<line x1="43.0" y1="313.0" x2="61.3" y2="351.0" stroke="#626262" stroke-width="2.4"/>
<line x1="61.3" y1="351.0" x2="56.9" y2="362.3" stroke="#7b7b7b" stroke-width="2.4"/>
<line x1="56.9" y1="362.3" x2="52.9" y2="372.5" stroke="#373737" stroke-width="2.4"/>
<line x1="52.9" y1="372.5" x2="45.4" y2="391.6" stroke="#767676" stroke-width="2.4"/>
<line x1="45.4" y1="391.6" x2="42.3" y2="399.5" stroke="#707070" stroke-width="2.4"/>
<line x1="42.6" y1="303.0" x2="47.2" y2="312.5" stroke="#808080" stroke-width="2.3"/>
<line x1="47.2" y1="312.5" x2="47.6" y2="313.3" stroke="#737373" stroke-width="2.3"/>
<line x1="47.6" y1="313.3" x2="58.9" y2="337.0" stroke="#828282" stroke-width="2.3"/>
<line x1="58.9" y1="337.0" x2="65.6" y2="351.0" stroke="#989898" stroke-width="2.3"/>
<line x1="65.6" y1="351.0" x2="62.5" y2="359.0" stroke="#8b8b8b" stroke-width="2.3"/>
<line x1="62.5" y1="359.0" x2="57.7" y2="371.4" stroke="#373737" stroke-width="2.3"/>
<line x1="57.7" y1="371.4" x2="53.9" y2="381.0" stroke="#9e9e9e" stroke-width="2.3"/>
<line x1="53.9" y1="381.0" x2="46.6" y2="399.5" stroke="#7e7e7e" stroke-width="2.3"/>
<line x1="48.0" y1="303.0" x2="60.3" y2="328.7" stroke="#6f6f6f" stroke-width="1.8"/>
<line x1="60.3" y1="328.7" x2="65.7" y2="339.9" stroke="#4e4e4e" stroke-width="1.8"/>
<line x1="65.7" y1="339.9" x2="71.0" y2="351.0" stroke="#535353" stroke-width="1.8"/>
<line x1="71.0" y1="351.0" x2="66.2" y2="363.4" stroke="#484848" stroke-width="1.8"/>
<line x1="66.2" y1="363.4" x2="52.0" y2="399.5" stroke="#4c4c4c" stroke-width="1.8"/>
<line x1="52.9" y1="303.0" x2="63.1" y2="324.3" stroke="#7c7c7c" stroke-width="1.9"/>
<line x1="63.1" y1="324.3" x2="75.9" y2="351.0" stroke="#9f9f9f" stroke-width="1.9"/>
<line x1="75.9" y1="351.0" x2="64.3" y2="380.5" stroke="#818181" stroke-width="1.9"/>
<line x1="64.3" y1="380.5" x2="63.2" y2="383.4" stroke="#9f9f9f" stroke-width="1.9"/>
<line x1="63.2" y1="383.4" x2="60.4" y2="390.5" stroke="#878787" stroke-width="1.9"/>
<line x1="60.4" y1="390.5" x2="56.9" y2="399.5" stroke="#7d7d7d" stroke-width="1.9"/>
<line x1="57.4" y1="303.0" x2="67.9" y2="325.0" stroke="#626262" stroke-width="1.7"/>
<line x1="67.9" y1="325.0" x2="80.4" y2="351.0" stroke="#626262" stroke-width="1.7"/>
<line x1="80.4" y1="351.0" x2="77.2" y2="359.1" stroke="#909090" stroke-width="1.7"/>
<line x1="77.2" y1="359.1" x2="76.2" y2="361.7" stroke="#646464" stroke-width="1.7"/>
<line x1="76.2" y1="361.7" x2="72.7" y2="370.6" stroke="#707070" stroke-width="1.7"/>
<line x1="72.7" y1="370.6" x2="61.4" y2="399.5" stroke="#636363" stroke-width="1.7"/>
<line x1="63.0" y1="303.0" x2="67.8" y2="313.1" stroke="#989898" stroke-width="2.2"/>
<line x1="67.8" y1="313.1" x2="68.1" y2="313.6" stroke="#b5b5b5" stroke-width="2.2"/>
<line x1="68.1" y1="313.6" x2="86.0" y2="351.0" stroke="#858585" stroke-width="2.2"/>
<line x1="86.0" y1="351.0" x2="78.3" y2="370.6" stroke="#b1b1b1" stroke-width="2.2"/>
<line x1="78.3" y1="370.6" x2="73.9" y2="381.7" stroke="#373737" stroke-width="2.2"/>
<line x1="73.9" y1="381.7" x2="71.0" y2="389.3" stroke="#b6b6b6" stroke-width="2.2"/>
<line x1="71.0" y1="389.3" x2="67.0" y2="399.5" stroke="#bababa" stroke-width="2.2"/>
<line x1="67.2" y1="303.0" x2="80.5" y2="330.8" stroke="#bdbdbd" stroke-width="2.5"/>
<line x1="80.5" y1="330.8" x2="80.9" y2="331.6" stroke="#999999" stroke-width="2.5"/>
<line x1="80.9" y1="331.6" x2="90.2" y2="351.0" stroke="#a6a6a6" stroke-width="2.5"/>
<line x1="90.2" y1="351.0" x2="80.4" y2="375.8" stroke="#373737" stroke-width="2.5"/>
<line x1="80.4" y1="375.8" x2="71.2" y2="399.5" stroke="#8f8f8f" stroke-width="2.5"/>
<line x1="71.4" y1="303.0" x2="86.5" y2="334.5" stroke="#b2b2b2" stroke-width="2.7"/>
<line x1="86.5" y1="334.5" x2="87.9" y2="337.4" stroke="#373737" stroke-width="2.7"/>
<line x1="87.9" y1="337.4" x2="94.4" y2="351.0" stroke="#bababa" stroke-width="2.7"/>
<line x1="94.4" y1="351.0" x2="83.3" y2="379.5" stroke="#d0d0d0" stroke-width="2.7"/>
<line x1="83.3" y1="379.5" x2="79.6" y2="388.8" stroke="#c5c5c5" stroke-width="2.7"/>
<line x1="79.6" y1="388.8" x2="75.4" y2="399.5" stroke="#a3a3a3" stroke-width="2.7"/>
<line x1="76.9" y1="303.0" x2="87.3" y2="324.8" stroke="#373737" stroke-width="2.2"/>
<line x1="87.3" y1="324.8" x2="99.9" y2="351.0" stroke="#949494" stroke-width="2.2"/>
<line x1="99.9" y1="351.0" x2="91.7" y2="371.9" stroke="#878787" stroke-width="2.2"/>
<line x1="91.7" y1="371.9" x2="84.4" y2="390.4" stroke="#636363" stroke-width="2.2"/>
<line x1="84.4" y1="390.4" x2="80.9" y2="399.5" stroke="#929292" stroke-width="2.2"/>
<line x1="80.9" y1="303.0" x2="86.9" y2="315.4" stroke="#9f9f9f" stroke-width="2.8"/>
<line x1="86.9" y1="315.4" x2="93.2" y2="328.6" stroke="#373737" stroke-width="2.8"/>
<line x1="93.2" y1="328.6" x2="99.5" y2="341.7" stroke="#cacaca" stroke-width="2.8"/>
<line x1="99.5" y1="341.7" x2="103.9" y2="351.0" stroke="#d9d9d9" stroke-width="2.8"/>
<line x1="103.9" y1="351.0" x2="100.7" y2="359.2" stroke="#aaaaaa" stroke-width="2.8"/>
<line x1="100.7" y1="359.2" x2="84.9" y2="399.5" stroke="#cbcbcb" stroke-width="2.8"/>
<line x1="85.7" y1="303.0" x2="94.9" y2="322.1" stroke="#848484" stroke-width="1.7"/>
<line x1="94.9" y1="322.1" x2="96.6" y2="325.6" stroke="#858585" stroke-width="1.7"/>
<line x1="96.6" y1="325.6" x2="98.6" y2="329.8" stroke="#6d6d6d" stroke-width="1.7"/>
<line x1="98.6" y1="329.8" x2="108.7" y2="351.0" stroke="#4f4f4f" stroke-width="1.7"/>
<line x1="108.7" y1="351.0" x2="97.8" y2="378.9" stroke="#7c7c7c" stroke-width="1.7"/>
<line x1="97.8" y1="378.9" x2="89.7" y2="399.5" stroke="#565656" stroke-width="1.7"/>
<line x1="89.7" y1="303.0" x2="101.0" y2="326.4" stroke="#373737" stroke-width="2.0"/>
<line x1="101.0" y1="326.4" x2="101.7" y2="328.0" stroke="#373737" stroke-width="2.0"/>
<line x1="101.7" y1="328.0" x2="105.7" y2="336.3" stroke="#353535" stroke-width="2.0"/>
<line x1="105.7" y1="336.3" x2="112.7" y2="351.0" stroke="#313131" stroke-width="2.0"/>
<line x1="112.7" y1="351.0" x2="104.0" y2="373.3" stroke="#545454" stroke-width="2.0"/>
<line x1="104.0" y1="373.3" x2="93.7" y2="399.5" stroke="#4e4e4e" stroke-width="2.0"/>
<line x1="94.4" y1="303.0" x2="109.1" y2="333.7" stroke="#c6c6c6" stroke-width="2.6"/>
<line x1="109.1" y1="333.7" x2="111.9" y2="339.7" stroke="#afafaf" stroke-width="2.6"/>
<line x1="111.9" y1="339.7" x2="113.0" y2="341.8" stroke="#c0c0c0" stroke-width="2.6"/>
<line x1="113.0" y1="341.8" x2="117.4" y2="351.0" stroke="#959595" stroke-width="2.6"/>
<line x1="117.4" y1="351.0" x2="105.6" y2="381.1" stroke="#a7a7a7" stroke-width="2.6"/>
<line x1="105.6" y1="381.1" x2="98.4" y2="399.5" stroke="#a0a0a0" stroke-width="2.6"/>
<line x1="99.6" y1="303.0" x2="118.6" y2="342.7" stroke="#7d7d7d" stroke-width="1.8"/>
<line x1="118.6" y1="342.7" x2="122.6" y2="351.0" stroke="#878787" stroke-width="1.8"/>
<line x1="122.6" y1="351.0" x2="117.6" y2="363.8" stroke="#8e8e8e" stroke-width="1.8"/>
<line x1="117.6" y1="363.8" x2="114.0" y2="372.9" stroke="#7b7b7b" stroke-width="1.8"/>
<line x1="114.0" y1="372.9" x2="108.6" y2="386.5" stroke="#373737" stroke-width="1.8"/>
<line x1="108.6" y1="386.5" x2="103.6" y2="399.5" stroke="#919191" stroke-width="1.8"/>
<line x1="103.4" y1="303.0" x2="107.9" y2="312.4" stroke="#ababab" stroke-width="2.2"/>
<line x1="107.9" y1="312.4" x2="115.1" y2="327.4" stroke="#373737" stroke-width="2.2"/>
<line x1="115.1" y1="327.4" x2="126.4" y2="351.0" stroke="#373737" stroke-width="2.2"/>
<line x1="126.4" y1="351.0" x2="119.9" y2="367.5" stroke="#777777" stroke-width="2.2"/>
<line x1="119.9" y1="367.5" x2="107.4" y2="399.5" stroke="#a6a6a6" stroke-width="2.2"/>
<line x1="107.7" y1="303.0" x2="112.5" y2="313.2" stroke="#515151" stroke-width="2.2"/>
<line x1="112.5" y1="313.2" x2="120.3" y2="329.4" stroke="#373737" stroke-width="2.2"/>
<line x1="120.3" y1="329.4" x2="122.4" y2="333.7" stroke="#868686" stroke-width="2.2"/>
<line x1="122.4" y1="333.7" x2="130.7" y2="351.0" stroke="#373737" stroke-width="2.2"/>
<line x1="130.7" y1="351.0" x2="126.9" y2="360.5" stroke="#818181" stroke-width="2.2"/>
<line x1="126.9" y1="360.5" x2="111.7" y2="399.5" stroke="#626262" stroke-width="2.2"/>
<line x1="113.1" y1="303.0" x2="125.1" y2="327.9" stroke="#373737" stroke-width="2.3"/>
<line x1="125.1" y1="327.9" x2="136.1" y2="351.0" stroke="#373737" stroke-width="2.3"/>
<line x1="136.1" y1="351.0" x2="120.9" y2="389.9" stroke="#8b8b8b" stroke-width="2.3"/>
<line x1="120.9" y1="389.9" x2="117.1" y2="399.5" stroke="#727272" stroke-width="2.3"/>
<line x1="118.1" y1="303.0" x2="137.6" y2="343.6" stroke="#373737" stroke-width="2.0"/>
<line x1="137.6" y1="343.6" x2="141.1" y2="351.0" stroke="#848484" stroke-width="2.0"/>
<line x1="141.1" y1="351.0" x2="136.9" y2="361.9" stroke="#979797" stroke-width="2.0"/>
<line x1="136.9" y1="361.9" x2="132.0" y2="374.4" stroke="#838383" stroke-width="2.0"/>
<line x1="132.0" y1="374.4" x2="125.8" y2="390.0" stroke="#7d7d7d" stroke-width="2.0"/>
<line x1="125.8" y1="390.0" x2="122.1" y2="399.5" stroke="#8f8f8f" stroke-width="2.0"/>
<line x1="122.5" y1="303.0" x2="139.5" y2="338.3" stroke="#4e4e4e" stroke-width="2.1"/>
<line x1="139.5" y1="338.3" x2="141.8" y2="343.2" stroke="#828282" stroke-width="2.1"/>
<line x1="141.8" y1="343.2" x2="145.5" y2="351.0" stroke="#515151" stroke-width="2.1"/>
<line x1="145.5" y1="351.0" x2="133.8" y2="381.0" stroke="#5e5e5e" stroke-width="2.1"/>
<line x1="133.8" y1="381.0" x2="131.1" y2="387.8" stroke="#5f5f5f" stroke-width="2.1"/>
<line x1="131.1" y1="387.8" x2="126.5" y2="399.5" stroke="#575757" stroke-width="2.1"/>
<line x1="126.8" y1="303.0" x2="130.8" y2="311.4" stroke="#7d7d7d" stroke-width="2.8"/>
<line x1="130.8" y1="311.4" x2="135.5" y2="321.1" stroke="#373737" stroke-width="2.8"/>
<line x1="135.5" y1="321.1" x2="144.5" y2="339.8" stroke="#808080" stroke-width="2.8"/>
<line x1="144.5" y1="339.8" x2="149.8" y2="351.0" stroke="#7e7e7e" stroke-width="2.8"/>
<line x1="149.8" y1="351.0" x2="143.5" y2="367.2" stroke="#757575" stroke-width="2.8"/>
<line x1="143.5" y1="367.2" x2="130.8" y2="399.5" stroke="#373737" stroke-width="2.8"/>
<line x1="131.2" y1="303.0" x2="137.1" y2="315.4" stroke="#8b8b8b" stroke-width="1.7"/>
<line x1="137.1" y1="315.4" x2="148.4" y2="338.9" stroke="#898989" stroke-width="1.7"/>
<line x1="148.4" y1="338.9" x2="149.0" y2="340.2" stroke="#797979" stroke-width="1.7"/>
<line x1="149.0" y1="340.2" x2="154.2" y2="351.0" stroke="#818181" stroke-width="1.7"/>
<line x1="154.2" y1="351.0" x2="143.0" y2="379.6" stroke="#8c8c8c" stroke-width="1.7"/>
<line x1="143.0" y1="379.6" x2="141.6" y2="383.2" stroke="#7b7b7b" stroke-width="1.7"/>
<line x1="141.6" y1="383.2" x2="139.5" y2="388.6" stroke="#8e8e8e" stroke-width="1.7"/>
<line x1="139.5" y1="388.6" x2="135.2" y2="399.5" stroke="#8d8d8d" stroke-width="1.7"/>
<line x1="136.6" y1="303.0" x2="142.2" y2="314.7" stroke="#373737" stroke-width="1.7"/>
<line x1="142.2" y1="314.7" x2="159.6" y2="351.0" stroke="#8e8e8e" stroke-width="1.7"/>
<line x1="159.6" y1="351.0" x2="156.5" y2="358.9" stroke="#6b6b6b" stroke-width="1.7"/>
<line x1="156.5" y1="358.9" x2="153.5" y2="366.6" stroke="#606060" stroke-width="1.7"/>
<line x1="153.5" y1="366.6" x2="149.7" y2="376.3" stroke="#373737" stroke-width="1.7"/>
<line x1="149.7" y1="376.3" x2="140.6" y2="399.5" stroke="#7b7b7b" stroke-width="1.7"/>
<line x1="141.2" y1="303.0" x2="156.4" y2="334.7" stroke="#4a4a4a" stroke-width="2.6"/>
<line x1="156.4" y1="334.7" x2="164.2" y2="351.0" stroke="#787878" stroke-width="2.6"/>
<line x1="164.2" y1="351.0" x2="160.4" y2="360.9" stroke="#373737" stroke-width="2.6"/>
<line x1="160.4" y1="360.9" x2="149.3" y2="389.2" stroke="#636363" stroke-width="2.6"/>
<line x1="149.3" y1="389.2" x2="145.2" y2="399.5" stroke="#616161" stroke-width="2.6"/>
<line x1="146.2" y1="303.0" x2="149.9" y2="310.6" stroke="#696969" stroke-width="2.3"/>
<line x1="149.9" y1="310.6" x2="169.2" y2="351.0" stroke="#8e8e8e" stroke-width="2.3"/>
<line x1="169.2" y1="351.0" x2="162.6" y2="368.0" stroke="#818181" stroke-width="2.3"/>
<line x1="162.6" y1="368.0" x2="159.8" y2="374.9" stroke="#a1a1a1" stroke-width="2.3"/>
<line x1="159.8" y1="374.9" x2="156.9" y2="382.3" stroke="#373737" stroke-width="2.3"/>
<line x1="156.9" y1="382.3" x2="150.2" y2="399.5" stroke="#828282" stroke-width="2.3"/>
<line x1="150.1" y1="303.0" x2="159.8" y2="323.2" stroke="#c4c4c4" stroke-width="2.8"/>
<line x1="159.8" y1="323.2" x2="169.6" y2="343.6" stroke="#373737" stroke-width="2.8"/>
<line x1="169.6" y1="343.6" x2="173.1" y2="351.0" stroke="#bababa" stroke-width="2.8"/>
<line x1="173.1" y1="351.0" x2="168.5" y2="362.8" stroke="#acacac" stroke-width="2.8"/>
<line x1="168.5" y1="362.8" x2="159.4" y2="386.1" stroke="#b8b8b8" stroke-width="2.8"/>
<line x1="159.4" y1="386.1" x2="154.1" y2="399.5" stroke="#c3c3c3" stroke-width="2.8"/>
<line x1="154.0" y1="303.0" x2="159.7" y2="314.9" stroke="#444444" stroke-width="2.7"/>
<line x1="159.7" y1="314.9" x2="162.3" y2="320.3" stroke="#373737" stroke-width="2.7"/>
<line x1="162.3" y1="320.3" x2="164.7" y2="325.3" stroke="#5d5d5d" stroke-width="2.7"/>
<line x1="164.7" y1="325.3" x2="177.0" y2="351.0" stroke="#373737" stroke-width="2.7"/>
<line x1="177.0" y1="351.0" x2="174.0" y2="358.7" stroke="#333333" stroke-width="2.7"/>
<line x1="174.0" y1="358.7" x2="170.8" y2="366.9" stroke="#373737" stroke-width="2.7"/>
<line x1="170.8" y1="366.9" x2="164.3" y2="383.4" stroke="#676767" stroke-width="2.7"/>
<line x1="164.3" y1="383.4" x2="158.0" y2="399.5" stroke="#636363" stroke-width="2.7"/>
<line x1="157.9" y1="303.0" x2="165.3" y2="318.6" stroke="#757575" stroke-width="2.4"/>
<line x1="165.3" y1="318.6" x2="180.9" y2="351.0" stroke="#717171" stroke-width="2.4"/>
<line x1="180.9" y1="351.0" x2="167.2" y2="385.8" stroke="#8b8b8b" stroke-width="2.4"/>
<line x1="167.2" y1="385.8" x2="166.3" y2="388.3" stroke="#9e9e9e" stroke-width="2.4"/>
<line x1="166.3" y1="388.3" x2="161.9" y2="399.5" stroke="#373737" stroke-width="2.4"/>
<line x1="163.0" y1="303.0" x2="176.8" y2="331.9" stroke="#373737" stroke-width="2.3"/>
<line x1="176.8" y1="331.9" x2="186.0" y2="351.0" stroke="#bbbbbb" stroke-width="2.3"/>
<line x1="186.0" y1="351.0" x2="179.4" y2="367.8" stroke="#939393" stroke-width="2.3"/>
<line x1="179.4" y1="367.8" x2="177.6" y2="372.4" stroke="#ababab" stroke-width="2.3"/>
<line x1="177.6" y1="372.4" x2="167.0" y2="399.5" stroke="#929292" stroke-width="2.3"/>
<line x1="168.0" y1="303.0" x2="172.7" y2="312.7" stroke="#5c5c5c" stroke-width="1.8"/>
<line x1="172.7" y1="312.7" x2="191.0" y2="351.0" stroke="#5f5f5f" stroke-width="1.8"/>
<line x1="191.0" y1="351.0" x2="182.2" y2="373.6" stroke="#464646" stroke-width="1.8"/>
<line x1="182.2" y1="373.6" x2="174.9" y2="392.1" stroke="#434343" stroke-width="1.8"/>
<line x1="174.9" y1="392.1" x2="172.0" y2="399.5" stroke="#434343" stroke-width="1.8"/>
<line x1="172.3" y1="303.0" x2="187.8" y2="335.4" stroke="#b6b6b6" stroke-width="1.8"/>
<line x1="187.8" y1="335.4" x2="195.3" y2="351.0" stroke="#bdbdbd" stroke-width="1.8"/>
<line x1="195.3" y1="351.0" x2="185.8" y2="375.2" stroke="#c0c0c0" stroke-width="1.8"/>
<line x1="185.8" y1="375.2" x2="182.4" y2="383.8" stroke="#c7c7c7" stroke-width="1.8"/>
<line x1="182.4" y1="383.8" x2="176.3" y2="399.5" stroke="#cdcdcd" stroke-width="1.8"/>
<line x1="176.2" y1="303.0" x2="186.9" y2="325.2" stroke="#373737" stroke-width="2.1"/>
<line x1="186.9" y1="325.2" x2="193.3" y2="338.7" stroke="#5d5d5d" stroke-width="2.1"/>
<line x1="193.3" y1="338.7" x2="195.0" y2="342.3" stroke="#919191" stroke-width="2.1"/>
<line x1="195.0" y1="342.3" x2="199.2" y2="351.0" stroke="#373737" stroke-width="2.1"/>
<line x1="199.2" y1="351.0" x2="184.0" y2="389.8" stroke="#7b7b7b" stroke-width="2.1"/>
<line x1="184.0" y1="389.8" x2="184.0" y2="389.9" stroke="#767676" stroke-width="2.1"/>
<line x1="184.0" y1="389.9" x2="180.2" y2="399.5" stroke="#696969" stroke-width="2.1"/>
<line x1="181.8" y1="303.0" x2="196.5" y2="333.8" stroke="#434343" stroke-width="2.7"/>
<line x1="196.5" y1="333.8" x2="198.9" y2="338.6" stroke="#3e3e3e" stroke-width="2.7"/>
<line x1="198.9" y1="338.6" x2="199.6" y2="340.3" stroke="#373737" stroke-width="2.7"/>
<line x1="199.6" y1="340.3" x2="204.8" y2="351.0" stroke="#686868" stroke-width="2.7"/>
<line x1="204.8" y1="351.0" x2="198.6" y2="366.8" stroke="#373737" stroke-width="2.7"/>
<line x1="198.6" y1="366.8" x2="193.5" y2="379.9" stroke="#5d5d5d" stroke-width="2.7"/>
<line x1="193.5" y1="379.9" x2="192.6" y2="382.0" stroke="#555555" stroke-width="2.7"/>
<line x1="192.6" y1="382.0" x2="185.8" y2="399.5" stroke="#373737" stroke-width="2.7"/>
<line x1="186.1" y1="303.0" x2="200.0" y2="331.9" stroke="#a0a0a0" stroke-width="1.9"/>
<line x1="200.0" y1="331.9" x2="203.8" y2="339.9" stroke="#929292" stroke-width="1.9"/>
<line x1="203.8" y1="339.9" x2="209.1" y2="351.0" stroke="#aeaeae" stroke-width="1.9"/>
<line x1="209.1" y1="351.0" x2="203.7" y2="364.9" stroke="#b9b9b9" stroke-width="1.9"/>
<line x1="203.7" y1="364.9" x2="190.1" y2="399.5" stroke="#888888" stroke-width="1.9"/>
<line x1="190.7" y1="303.0" x2="205.3" y2="333.6" stroke="#9b9b9b" stroke-width="1.9"/>
<line x1="205.3" y1="333.6" x2="213.7" y2="351.0" stroke="#373737" stroke-width="1.9"/>
<line x1="213.7" y1="351.0" x2="204.1" y2="375.4" stroke="#7c7c7c" stroke-width="1.9"/>
<line x1="204.1" y1="375.4" x2="201.0" y2="383.4" stroke="#828282" stroke-width="1.9"/>
<line x1="201.0" y1="383.4" x2="194.7" y2="399.5" stroke="#7d7d7d" stroke-width="1.9"/>
<line x1="195.9" y1="303.0" x2="202.3" y2="316.5" stroke="#7f7f7f" stroke-width="1.7"/>
<line x1="202.3" y1="316.5" x2="202.9" y2="317.7" stroke="#9e9e9e" stroke-width="1.7"/>
<line x1="202.9" y1="317.7" x2="207.3" y2="326.9" stroke="#7d7d7d" stroke-width="1.7"/>
<line x1="207.3" y1="326.9" x2="218.9" y2="351.0" stroke="#a0a0a0" stroke-width="1.7"/>
<line x1="218.9" y1="351.0" x2="206.6" y2="382.4" stroke="#717171" stroke-width="1.7"/>
<line x1="206.6" y1="382.4" x2="199.9" y2="399.5" stroke="#909090" stroke-width="1.7"/>
<line x1="199.9" y1="303.0" x2="206.4" y2="316.6" stroke="#5d5d5d" stroke-width="2.7"/>
<line x1="206.4" y1="316.6" x2="213.8" y2="332.1" stroke="#505050" stroke-width="2.7"/>
<line x1="213.8" y1="332.1" x2="222.9" y2="351.0" stroke="#707070" stroke-width="2.7"/>
<line x1="222.9" y1="351.0" x2="220.0" y2="358.4" stroke="#4e4e4e" stroke-width="2.7"/>
<line x1="220.0" y1="358.4" x2="217.8" y2="364.0" stroke="#777777" stroke-width="2.7"/>
<line x1="217.8" y1="364.0" x2="203.9" y2="399.5" stroke="#777777" stroke-width="2.7"/>
<line x1="204.3" y1="303.0" x2="209.2" y2="313.1" stroke="#717171" stroke-width="2.6"/>
<line x1="209.2" y1="313.1" x2="219.1" y2="333.9" stroke="#808080" stroke-width="2.6"/>
<line x1="219.1" y1="333.9" x2="227.3" y2="351.0" stroke="#929292" stroke-width="2.6"/>
<line x1="227.3" y1="351.0" x2="219.0" y2="372.2" stroke="#373737" stroke-width="2.6"/>
<line x1="219.0" y1="372.2" x2="214.3" y2="384.3" stroke="#696969" stroke-width="2.6"/>
<line x1="214.3" y1="384.3" x2="213.7" y2="385.8" stroke="#757575" stroke-width="2.6"/>
<line x1="213.7" y1="385.8" x2="208.3" y2="399.5" stroke="#9b9b9b" stroke-width="2.6"/>
<line x1="208.6" y1="303.0" x2="216.5" y2="319.5" stroke="#9e9e9e" stroke-width="1.7"/>
<line x1="216.5" y1="319.5" x2="217.1" y2="320.8" stroke="#d4d4d4" stroke-width="1.7"/>
<line x1="217.1" y1="320.8" x2="223.6" y2="334.3" stroke="#373737" stroke-width="1.7"/>
<line x1="223.6" y1="334.3" x2="231.6" y2="351.0" stroke="#acacac" stroke-width="1.7"/>
<line x1="231.6" y1="351.0" x2="223.6" y2="371.4" stroke="#adadad" stroke-width="1.7"/>
<line x1="223.6" y1="371.4" x2="216.1" y2="390.7" stroke="#bbbbbb" stroke-width="1.7"/>
<line x1="216.1" y1="390.7" x2="212.6" y2="399.5" stroke="#a8a8a8" stroke-width="1.7"/>
<line x1="213.7" y1="303.0" x2="224.6" y2="325.7" stroke="#7d7d7d" stroke-width="2.3"/>
<line x1="224.6" y1="325.7" x2="231.0" y2="339.1" stroke="#6c6c6c" stroke-width="2.3"/>
<line x1="231.0" y1="339.1" x2="236.7" y2="351.0" stroke="#575757" stroke-width="2.3"/>
<line x1="236.7" y1="351.0" x2="233.4" y2="359.4" stroke="#888888" stroke-width="2.3"/>
<line x1="233.4" y1="359.4" x2="229.5" y2="369.3" stroke="#898989" stroke-width="2.3"/>
<line x1="229.5" y1="369.3" x2="226.5" y2="377.0" stroke="#373737" stroke-width="2.3"/>
<line x1="226.5" y1="377.0" x2="217.7" y2="399.5" stroke="#6b6b6b" stroke-width="2.3"/>
<line x1="218.3" y1="303.0" x2="231.8" y2="331.0" stroke="#888888" stroke-width="1.8"/>
<line x1="231.8" y1="331.0" x2="232.6" y2="332.9" stroke="#838383" stroke-width="1.8"/>
<line x1="232.6" y1="332.9" x2="241.3" y2="351.0" stroke="#8e8e8e" stroke-width="1.8"/>
<line x1="241.3" y1="351.0" x2="235.1" y2="366.9" stroke="#767676" stroke-width="1.8"/>
<line x1="235.1" y1="366.9" x2="235.0" y2="367.1" stroke="#6a6a6a" stroke-width="1.8"/>
<line x1="235.0" y1="367.1" x2="234.9" y2="367.4" stroke="#929292" stroke-width="1.8"/>
<line x1="234.9" y1="367.4" x2="222.3" y2="399.5" stroke="#5f5f5f" stroke-width="1.8"/>
<line x1="222.6" y1="303.0" x2="236.5" y2="332.2" stroke="#373737" stroke-width="1.9"/>
<line x1="236.5" y1="332.2" x2="245.6" y2="351.0" stroke="#aaaaaa" stroke-width="1.9"/>
<line x1="245.6" y1="351.0" x2="242.2" y2="359.6" stroke="#373737" stroke-width="1.9"/>
<line x1="242.2" y1="359.6" x2="230.6" y2="389.3" stroke="#999999" stroke-width="1.9"/>
<line x1="230.6" y1="389.3" x2="226.6" y2="399.5" stroke="#b0b0b0" stroke-width="1.9"/>
<line x1="227.0" y1="303.0" x2="241.2" y2="332.5" stroke="#4e4e4e" stroke-width="2.1"/>
<line x1="241.2" y1="332.5" x2="243.0" y2="336.2" stroke="#787878" stroke-width="2.1"/>
<line x1="243.0" y1="336.2" x2="250.0" y2="351.0" stroke="#505050" stroke-width="2.1"/>
<line x1="250.0" y1="351.0" x2="244.5" y2="365.2" stroke="#5d5d5d" stroke-width="2.1"/>
<line x1="244.5" y1="365.2" x2="231.0" y2="399.5" stroke="#757575" stroke-width="2.1"/>
<line x1="230.9" y1="303.0" x2="237.3" y2="316.4" stroke="#7c7c7c" stroke-width="2.1"/>
<line x1="237.3" y1="316.4" x2="239.3" y2="320.7" stroke="#373737" stroke-width="2.1"/>
<line x1="239.3" y1="320.7" x2="253.9" y2="351.0" stroke="#767676" stroke-width="2.1"/>
<line x1="253.9" y1="351.0" x2="249.0" y2="363.5" stroke="#878787" stroke-width="2.1"/>
<line x1="249.0" y1="363.5" x2="243.9" y2="376.4" stroke="#ababab" stroke-width="2.1"/>
<line x1="243.9" y1="376.4" x2="242.3" y2="380.4" stroke="#373737" stroke-width="2.1"/>
<line x1="242.3" y1="380.4" x2="234.9" y2="399.5" stroke="#9c9c9c" stroke-width="2.1"/>
<line x1="235.4" y1="303.0" x2="245.1" y2="323.3" stroke="#484848" stroke-width="2.6"/>
<line x1="245.1" y1="323.3" x2="249.2" y2="331.9" stroke="#4a4a4a" stroke-width="2.6"/>
<line x1="249.2" y1="331.9" x2="258.4" y2="351.0" stroke="#373737" stroke-width="2.6"/>
<line x1="258.4" y1="351.0" x2="253.4" y2="363.8" stroke="#303030" stroke-width="2.6"/>
<line x1="253.4" y1="363.8" x2="249.4" y2="373.9" stroke="#565656" stroke-width="2.6"/>
<line x1="249.4" y1="373.9" x2="243.8" y2="388.2" stroke="#353535" stroke-width="2.6"/>
<line x1="243.8" y1="388.2" x2="239.4" y2="399.5" stroke="#464646" stroke-width="2.6"/>
<line x1="239.5" y1="303.0" x2="257.8" y2="341.3" stroke="#6c6c6c" stroke-width="1.8"/>
<line x1="257.8" y1="341.3" x2="262.5" y2="351.0" stroke="#969696" stroke-width="1.8"/>
<line x1="262.5" y1="351.0" x2="255.6" y2="368.5" stroke="#373737" stroke-width="1.8"/>
<line x1="255.6" y1="368.5" x2="243.5" y2="399.5" stroke="#9c9c9c" stroke-width="1.8"/>
<line x1="244.4" y1="303.0" x2="250.4" y2="315.6" stroke="#a9a9a9" stroke-width="1.7"/>
<line x1="250.4" y1="315.6" x2="257.8" y2="331.0" stroke="#929292" stroke-width="1.7"/>
<line x1="257.8" y1="331.0" x2="261.1" y2="337.9" stroke="#ababab" stroke-width="1.7"/>
<line x1="261.1" y1="337.9" x2="267.4" y2="351.0" stroke="#878787" stroke-width="1.7"/>
<line x1="267.4" y1="351.0" x2="262.5" y2="363.3" stroke="#b4b4b4" stroke-width="1.7"/>
<line x1="262.5" y1="363.3" x2="262.4" y2="363.6" stroke="#858585" stroke-width="1.7"/>
<line x1="262.4" y1="363.6" x2="259.7" y2="370.5" stroke="#acacac" stroke-width="1.7"/>
<line x1="259.7" y1="370.5" x2="248.4" y2="399.5" stroke="#a2a2a2" stroke-width="1.7"/>
<line x1="248.9" y1="303.0" x2="257.3" y2="320.6" stroke="#929292" stroke-width="2.3"/>
<line x1="257.3" y1="320.6" x2="262.8" y2="332.0" stroke="#9a9a9a" stroke-width="2.3"/>
<line x1="262.8" y1="332.0" x2="264.8" y2="336.3" stroke="#373737" stroke-width="2.3"/>
<line x1="264.8" y1="336.3" x2="271.9" y2="351.0" stroke="#bfbfbf" stroke-width="2.3"/>
<line x1="271.9" y1="351.0" x2="258.9" y2="384.2" stroke="#9f9f9f" stroke-width="2.3"/>
<line x1="258.9" y1="384.2" x2="258.6" y2="384.8" stroke="#373737" stroke-width="2.3"/>
<line x1="258.6" y1="384.8" x2="252.9" y2="399.5" stroke="#8b8b8b" stroke-width="2.3"/>
<line x1="252.8" y1="303.0" x2="256.9" y2="311.6" stroke="#b0b0b0" stroke-width="2.2"/>
<line x1="256.9" y1="311.6" x2="257.6" y2="313.0" stroke="#373737" stroke-width="2.2"/>
<line x1="257.6" y1="313.0" x2="266.5" y2="331.6" stroke="#a2a2a2" stroke-width="2.2"/>
<line x1="266.5" y1="331.6" x2="275.8" y2="351.0" stroke="#bdbdbd" stroke-width="2.2"/>
<line x1="275.8" y1="351.0" x2="259.7" y2="392.1" stroke="#afafaf" stroke-width="2.2"/>
<line x1="259.7" y1="392.1" x2="256.8" y2="399.5" stroke="#8f8f8f" stroke-width="2.2"/>
<line x1="257.5" y1="303.0" x2="262.0" y2="312.4" stroke="#7b7b7b" stroke-width="2.4"/>
<line x1="262.0" y1="312.4" x2="266.6" y2="322.0" stroke="#838383" stroke-width="2.4"/>
<line x1="266.6" y1="322.0" x2="275.9" y2="341.5" stroke="#7e7e7e" stroke-width="2.4"/>
<line x1="275.9" y1="341.5" x2="280.5" y2="351.0" stroke="#6c6c6c" stroke-width="2.4"/>
<line x1="280.5" y1="351.0" x2="269.8" y2="378.4" stroke="#727272" stroke-width="2.4"/>
<line x1="269.8" y1="378.4" x2="261.5" y2="399.5" stroke="#646464" stroke-width="2.4"/>
<line x1="262.0" y1="303.0" x2="268.2" y2="315.9" stroke="#6c6c6c" stroke-width="2.4"/>
<line x1="268.2" y1="315.9" x2="278.1" y2="336.6" stroke="#8c8c8c" stroke-width="2.4"/>
<line x1="278.1" y1="336.6" x2="285.0" y2="351.0" stroke="#9a9a9a" stroke-width="2.4"/>
<line x1="285.0" y1="351.0" x2="278.8" y2="366.8" stroke="#868686" stroke-width="2.4"/>
<line x1="278.8" y1="366.8" x2="273.0" y2="381.7" stroke="#929292" stroke-width="2.4"/>
<line x1="273.0" y1="381.7" x2="270.3" y2="388.7" stroke="#7c7c7c" stroke-width="2.4"/>
<line x1="270.3" y1="388.7" x2="266.0" y2="399.5" stroke="#6e6e6e" stroke-width="2.4"/>
<line x1="266.0" y1="303.0" x2="274.2" y2="320.2" stroke="#6e6e6e" stroke-width="1.8"/>
<line x1="274.2" y1="320.2" x2="277.7" y2="327.5" stroke="#909090" stroke-width="1.8"/>
<line x1="277.7" y1="327.5" x2="284.9" y2="342.4" stroke="#919191" stroke-width="1.8"/>
<line x1="284.9" y1="342.4" x2="289.0" y2="351.0" stroke="#888888" stroke-width="1.8"/>
<line x1="289.0" y1="351.0" x2="280.4" y2="372.9" stroke="#7a7a7a" stroke-width="1.8"/>
<line x1="280.4" y1="372.9" x2="277.9" y2="379.2" stroke="#636363" stroke-width="1.8"/>
<line x1="277.9" y1="379.2" x2="270.0" y2="399.5" stroke="#373737" stroke-width="1.8"/>
<line x1="269.8" y1="303.0" x2="276.8" y2="317.7" stroke="#939393" stroke-width="2.0"/>
<line x1="276.8" y1="317.7" x2="279.0" y2="322.2" stroke="#959595" stroke-width="2.0"/>
<line x1="279.0" y1="322.2" x2="282.6" y2="329.8" stroke="#787878" stroke-width="2.0"/>
<line x1="282.6" y1="329.8" x2="292.8" y2="351.0" stroke="#7e7e7e" stroke-width="2.0"/>
<line x1="292.8" y1="351.0" x2="289.1" y2="360.4" stroke="#787878" stroke-width="2.0"/>
<line x1="289.1" y1="360.4" x2="273.8" y2="399.5" stroke="#808080" stroke-width="2.0"/>
<line x1="275.3" y1="303.0" x2="288.1" y2="329.6" stroke="#545454" stroke-width="2.4"/>
<line x1="288.1" y1="329.6" x2="288.4" y2="330.2" stroke="#4d4d4d" stroke-width="2.4"/>
<line x1="288.4" y1="330.2" x2="293.2" y2="340.2" stroke="#373737" stroke-width="2.4"/>
<line x1="293.2" y1="340.2" x2="298.3" y2="351.0" stroke="#313131" stroke-width="2.4"/>
<line x1="298.3" y1="351.0" x2="294.7" y2="360.3" stroke="#373737" stroke-width="2.4"/>
<line x1="294.7" y1="360.3" x2="279.3" y2="399.5" stroke="#515151" stroke-width="2.4"/>
<line x1="279.4" y1="303.0" x2="291.0" y2="327.2" stroke="#666666" stroke-width="2.2"/>
<line x1="291.0" y1="327.2" x2="293.2" y2="331.8" stroke="#373737" stroke-width="2.2"/>
<line x1="293.2" y1="331.8" x2="295.9" y2="337.5" stroke="#919191" stroke-width="2.2"/>
<line x1="295.9" y1="337.5" x2="302.4" y2="351.0" stroke="#373737" stroke-width="2.2"/>
<line x1="302.4" y1="351.0" x2="293.3" y2="374.1" stroke="#888888" stroke-width="2.2"/>
<line x1="293.3" y1="374.1" x2="289.6" y2="383.6" stroke="#373737" stroke-width="2.2"/>
<line x1="289.6" y1="383.6" x2="283.4" y2="399.5" stroke="#373737" stroke-width="2.2"/>
<line x1="283.8" y1="303.0" x2="297.5" y2="331.6" stroke="#8f8f8f" stroke-width="2.5"/>
<line x1="297.5" y1="331.6" x2="298.2" y2="333.0" stroke="#a0a0a0" stroke-width="2.5"/>
<line x1="298.2" y1="333.0" x2="306.8" y2="351.0" stroke="#9d9d9d" stroke-width="2.5"/>
<line x1="306.8" y1="351.0" x2="292.2" y2="388.2" stroke="#666666" stroke-width="2.5"/>
<line x1="292.2" y1="388.2" x2="287.8" y2="399.5" stroke="#747474" stroke-width="2.5"/>
<line x1="289.3" y1="303.0" x2="296.6" y2="318.2" stroke="#a6a6a6" stroke-width="1.8"/>
<line x1="296.6" y1="318.2" x2="298.0" y2="321.2" stroke="#999999" stroke-width="1.8"/>
<line x1="298.0" y1="321.2" x2="312.3" y2="351.0" stroke="#aaaaaa" stroke-width="1.8"/>
<line x1="312.3" y1="351.0" x2="303.6" y2="373.1" stroke="#9b9b9b" stroke-width="1.8"/>
<line x1="303.6" y1="373.1" x2="300.2" y2="382.0" stroke="#828282" stroke-width="1.8"/>
<line x1="300.2" y1="382.0" x2="298.0" y2="387.4" stroke="#373737" stroke-width="1.8"/>
<line x1="298.0" y1="387.4" x2="293.3" y2="399.5" stroke="#a6a6a6" stroke-width="1.8"/>
<line x1="293.1" y1="303.0" x2="302.1" y2="321.8" stroke="#373737" stroke-width="2.3"/>
<line x1="302.1" y1="321.8" x2="316.1" y2="351.0" stroke="#404040" stroke-width="2.3"/>
<line x1="316.1" y1="351.0" x2="312.7" y2="359.7" stroke="#717171" stroke-width="2.3"/>
<line x1="312.7" y1="359.7" x2="312.7" y2="359.9" stroke="#494949" stroke-width="2.3"/>
<line x1="312.7" y1="359.9" x2="312.4" y2="360.6" stroke="#5e5e5e" stroke-width="2.3"/>
<line x1="312.4" y1="360.6" x2="297.1" y2="399.5" stroke="#727272" stroke-width="2.3"/>
<line x1="298.2" y1="303.0" x2="304.9" y2="317.0" stroke="#7c7c7c" stroke-width="1.7"/>
<line x1="304.9" y1="317.0" x2="321.2" y2="351.0" stroke="#b0b0b0" stroke-width="1.7"/>
<line x1="321.2" y1="351.0" x2="307.4" y2="386.3" stroke="#9f9f9f" stroke-width="1.7"/>
<line x1="307.4" y1="386.3" x2="302.2" y2="399.5" stroke="#373737" stroke-width="1.7"/>
<line x1="303.4" y1="303.0" x2="307.2" y2="310.9" stroke="#6b6b6b" stroke-width="2.0"/>
<line x1="307.2" y1="310.9" x2="313.7" y2="324.4" stroke="#868686" stroke-width="2.0"/>
<line x1="313.7" y1="324.4" x2="326.4" y2="351.0" stroke="#6f6f6f" stroke-width="2.0"/>
<line x1="326.4" y1="351.0" x2="319.7" y2="368.0" stroke="#373737" stroke-width="2.0"/>
<line x1="319.7" y1="368.0" x2="317.2" y2="374.4" stroke="#373737" stroke-width="2.0"/>
<line x1="317.2" y1="374.4" x2="313.6" y2="383.6" stroke="#373737" stroke-width="2.0"/>
<line x1="313.6" y1="383.6" x2="307.4" y2="399.5" stroke="#7d7d7d" stroke-width="2.0"/>
<line x1="308.7" y1="303.0" x2="319.1" y2="324.9" stroke="#bdbdbd" stroke-width="2.6"/>
<line x1="319.1" y1="324.9" x2="331.7" y2="351.0" stroke="#373737" stroke-width="2.6"/>
<line x1="331.7" y1="351.0" x2="322.3" y2="374.9" stroke="#cdcdcd" stroke-width="2.6"/>
<line x1="322.3" y1="374.9" x2="322.3" y2="375.0" stroke="#bbbbbb" stroke-width="2.6"/>
<line x1="322.3" y1="375.0" x2="312.7" y2="399.5" stroke="#cfcfcf" stroke-width="2.6"/>
<line x1="314.2" y1="303.0" x2="320.3" y2="315.8" stroke="#949494" stroke-width="2.6"/>
<line x1="320.3" y1="315.8" x2="321.3" y2="318.0" stroke="#a1a1a1" stroke-width="2.6"/>
<line x1="321.3" y1="318.0" x2="332.7" y2="341.7" stroke="#6c6c6c" stroke-width="2.6"/>
<line x1="332.7" y1="341.7" x2="337.2" y2="351.0" stroke="#6b6b6b" stroke-width="2.6"/>
<line x1="337.2" y1="351.0" x2="334.0" y2="359.1" stroke="#727272" stroke-width="2.6"/>
<line x1="334.0" y1="359.1" x2="333.2" y2="361.2" stroke="#9c9c9c" stroke-width="2.6"/>
<line x1="333.2" y1="361.2" x2="322.5" y2="388.4" stroke="#7c7c7c" stroke-width="2.6"/>
<line x1="322.5" y1="388.4" x2="318.2" y2="399.5" stroke="#747474" stroke-width="2.6"/>
<line x1="318.9" y1="303.0" x2="330.8" y2="327.7" stroke="#d2d2d2" stroke-width="2.4"/>
<line x1="330.8" y1="327.7" x2="331.7" y2="329.7" stroke="#bfbfbf" stroke-width="2.4"/>
<line x1="331.7" y1="329.7" x2="341.9" y2="351.0" stroke="#b9b9b9" stroke-width="2.4"/>
<line x1="341.9" y1="351.0" x2="337.4" y2="362.6" stroke="#b9b9b9" stroke-width="2.4"/>
<line x1="337.4" y1="362.6" x2="331.4" y2="377.9" stroke="#acacac" stroke-width="2.4"/>
<line x1="331.4" y1="377.9" x2="322.9" y2="399.5" stroke="#b0b0b0" stroke-width="2.4"/>
<line x1="324.2" y1="303.0" x2="339.3" y2="334.5" stroke="#727272" stroke-width="2.5"/>
<line x1="339.3" y1="334.5" x2="347.2" y2="351.0" stroke="#5c5c5c" stroke-width="2.5"/>
<line x1="347.2" y1="351.0" x2="334.7" y2="383.0" stroke="#545454" stroke-width="2.5"/>
<line x1="334.7" y1="383.0" x2="331.4" y2="391.4" stroke="#545454" stroke-width="2.5"/>
<line x1="331.4" y1="391.4" x2="328.2" y2="399.5" stroke="#898989" stroke-width="2.5"/>
<rect x="60" y="351" width="257" height="46.5" fill="#000" opacity="0.12"/>
<rect x="60" y="385.5" width="257" height="12" fill="#000" opacity="0.12"/>
<ellipse cx="91" cy="376" rx="3.2" ry="7.5" fill="#cdcdcd" transform="rotate(15 91 376)"/>
<ellipse cx="118" cy="380" rx="4" ry="9" fill="#969696" transform="rotate(20 118 380)"/>
<ellipse cx="291" cy="387" rx="3.8" ry="8.5" fill="#c8c8c8" transform="rotate(15 291 387)"/>
<ellipse cx="150" cy="330" rx="2" ry="5" fill="#aaaaaa" transform="rotate(25 150 330)"/>
<ellipse cx="236" cy="318" rx="2" ry="5" fill="#a5a5a5" transform="rotate(25 236 318)"/>
<ellipse cx="270" cy="372" rx="2" ry="4" fill="#a0a0a0" transform="rotate(20 270 372)"/>
<ellipse cx="205" cy="360" rx="2" ry="5" fill="#969696" transform="rotate(20 205 360)"/>
</g>
<rect x="60" y="271" width="257" height="34" fill="url(#filmg)"/>
<rect x="222" y="301" width="40.5" height="8" fill="#9a9a9a"/>
<line x1="222.5" y1="308.5" x2="262" y2="308.5" stroke="#c8c8c8" stroke-width="1.2"/>
<line x1="60" y1="271.8" x2="317" y2="271.8" stroke="#bcbcbc" stroke-width="1.5"/>
<circle cx="61.5" cy="274.2" r="1.3" fill="#8e8e8e" opacity="0.8"/>
<circle cx="65.4" cy="274.2" r="1.3" fill="#7d7d7d" opacity="0.8"/>
<circle cx="69.3" cy="274.2" r="1.3" fill="#9c9c9c" opacity="0.8"/>
<circle cx="73.2" cy="274.2" r="1.3" fill="#777777" opacity="0.8"/>
<circle cx="77.1" cy="274.2" r="1.3" fill="#7e7e7e" opacity="0.8"/>
<circle cx="81.0" cy="274.2" r="1.3" fill="#8b8b8b" opacity="0.8"/>
<circle cx="84.9" cy="274.2" r="1.3" fill="#727272" opacity="0.8"/>
<circle cx="88.8" cy="274.2" r="1.3" fill="#8c8c8c" opacity="0.8"/>
<circle cx="92.7" cy="274.2" r="1.3" fill="#a7a7a7" opacity="0.8"/>
<circle cx="96.6" cy="274.2" r="1.3" fill="#a0a0a0" opacity="0.8"/>
<circle cx="100.5" cy="274.2" r="1.3" fill="#939393" opacity="0.8"/>
<circle cx="104.4" cy="274.2" r="1.3" fill="#9c9c9c" opacity="0.8"/>
<circle cx="108.3" cy="274.2" r="1.3" fill="#909090" opacity="0.8"/>
<circle cx="112.2" cy="274.2" r="1.3" fill="#7a7a7a" opacity="0.8"/>
<circle cx="116.1" cy="274.2" r="1.3" fill="#9a9a9a" opacity="0.8"/>
<circle cx="120.0" cy="274.2" r="1.3" fill="#8c8c8c" opacity="0.8"/>
<circle cx="123.9" cy="274.2" r="1.3" fill="#a3a3a3" opacity="0.8"/>
<circle cx="127.8" cy="274.2" r="1.3" fill="#afafaf" opacity="0.8"/>
<circle cx="131.7" cy="274.2" r="1.3" fill="#8e8e8e" opacity="0.8"/>
<circle cx="135.6" cy="274.2" r="1.3" fill="#989898" opacity="0.8"/>
<circle cx="139.5" cy="274.2" r="1.3" fill="#a4a4a4" opacity="0.8"/>
<circle cx="143.4" cy="274.2" r="1.3" fill="#8d8d8d" opacity="0.8"/>
<circle cx="147.3" cy="274.2" r="1.3" fill="#808080" opacity="0.8"/>
<circle cx="151.2" cy="274.2" r="1.3" fill="#a2a2a2" opacity="0.8"/>
<circle cx="155.1" cy="274.2" r="1.3" fill="#adadad" opacity="0.8"/>
<circle cx="159.0" cy="274.2" r="1.3" fill="#a6a6a6" opacity="0.8"/>
<circle cx="162.9" cy="274.2" r="1.3" fill="#a1a1a1" opacity="0.8"/>
<circle cx="166.8" cy="274.2" r="1.3" fill="#ababab" opacity="0.8"/>
<circle cx="170.7" cy="274.2" r="1.3" fill="#9f9f9f" opacity="0.8"/>
<circle cx="174.6" cy="274.2" r="1.3" fill="#9d9d9d" opacity="0.8"/>
<circle cx="178.5" cy="274.2" r="1.3" fill="#8f8f8f" opacity="0.8"/>
<circle cx="182.4" cy="274.2" r="1.3" fill="#868686" opacity="0.8"/>
<circle cx="186.3" cy="274.2" r="1.3" fill="#9c9c9c" opacity="0.8"/>
<circle cx="190.2" cy="274.2" r="1.3" fill="#767676" opacity="0.8"/>
<circle cx="194.1" cy="274.2" r="1.3" fill="#8d8d8d" opacity="0.8"/>
<circle cx="198.0" cy="274.2" r="1.3" fill="#a6a6a6" opacity="0.8"/>
<circle cx="201.9" cy="274.2" r="1.3" fill="#a2a2a2" opacity="0.8"/>
<circle cx="205.8" cy="274.2" r="1.3" fill="#9c9c9c" opacity="0.8"/>
<circle cx="209.7" cy="274.2" r="1.3" fill="#818181" opacity="0.8"/>
<circle cx="213.6" cy="274.2" r="1.3" fill="#8d8d8d" opacity="0.8"/>
<circle cx="217.5" cy="274.2" r="1.3" fill="#8f8f8f" opacity="0.8"/>
<circle cx="221.4" cy="274.2" r="1.3" fill="#9b9b9b" opacity="0.8"/>
<circle cx="225.3" cy="274.2" r="1.3" fill="#8c8c8c" opacity="0.8"/>
<circle cx="229.2" cy="274.2" r="1.3" fill="#9f9f9f" opacity="0.8"/>
<circle cx="233.1" cy="274.2" r="1.3" fill="#b1b1b1" opacity="0.8"/>
<circle cx="237.0" cy="274.2" r="1.3" fill="#7c7c7c" opacity="0.8"/>
<circle cx="240.9" cy="274.2" r="1.3" fill="#9d9d9d" opacity="0.8"/>
<circle cx="244.8" cy="274.2" r="1.3" fill="#a6a6a6" opacity="0.8"/>
<circle cx="248.7" cy="274.2" r="1.3" fill="#8b8b8b" opacity="0.8"/>
<circle cx="252.6" cy="274.2" r="1.3" fill="#929292" opacity="0.8"/>
<circle cx="256.5" cy="274.2" r="1.3" fill="#b4b4b4" opacity="0.8"/>
<circle cx="260.4" cy="274.2" r="1.3" fill="#727272" opacity="0.8"/>
<circle cx="264.3" cy="274.2" r="1.3" fill="#969696" opacity="0.8"/>
<circle cx="268.2" cy="274.2" r="1.3" fill="#7b7b7b" opacity="0.8"/>
<circle cx="272.1" cy="274.2" r="1.3" fill="#a6a6a6" opacity="0.8"/>
<circle cx="276.0" cy="274.2" r="1.3" fill="#b1b1b1" opacity="0.8"/>
<circle cx="279.9" cy="274.2" r="1.3" fill="#949494" opacity="0.8"/>
<circle cx="283.8" cy="274.2" r="1.3" fill="#777777" opacity="0.8"/>
<circle cx="287.7" cy="274.2" r="1.3" fill="#989898" opacity="0.8"/>
<circle cx="291.6" cy="274.2" r="1.3" fill="#959595" opacity="0.8"/>
<circle cx="295.5" cy="274.2" r="1.3" fill="#a2a2a2" opacity="0.8"/>
<circle cx="299.4" cy="274.2" r="1.3" fill="#939393" opacity="0.8"/>
<circle cx="303.3" cy="274.2" r="1.3" fill="#9c9c9c" opacity="0.8"/>
<circle cx="307.2" cy="274.2" r="1.3" fill="#aaaaaa" opacity="0.8"/>
<circle cx="311.1" cy="274.2" r="1.3" fill="#949494" opacity="0.8"/>
<circle cx="315.0" cy="274.2" r="1.3" fill="#8c8c8c" opacity="0.8"/>
<circle cx="61.5" cy="278.1" r="1.3" fill="#aeaeae" opacity="0.8"/>
<circle cx="65.4" cy="278.1" r="1.3" fill="#7b7b7b" opacity="0.8"/>
<circle cx="69.3" cy="278.1" r="1.3" fill="#9c9c9c" opacity="0.8"/>
<circle cx="73.2" cy="278.1" r="1.3" fill="#888888" opacity="0.8"/>
<circle cx="77.1" cy="278.1" r="1.3" fill="#a1a1a1" opacity="0.8"/>
<circle cx="81.0" cy="278.1" r="1.3" fill="#757575" opacity="0.8"/>
<circle cx="84.9" cy="278.1" r="1.3" fill="#b1b1b1" opacity="0.8"/>
<circle cx="88.8" cy="278.1" r="1.3" fill="#858585" opacity="0.8"/>
<circle cx="92.7" cy="278.1" r="1.3" fill="#707070" opacity="0.8"/>
<circle cx="96.6" cy="278.1" r="1.3" fill="#7f7f7f" opacity="0.8"/>
<circle cx="100.5" cy="278.1" r="1.3" fill="#888888" opacity="0.8"/>
<circle cx="104.4" cy="278.1" r="1.3" fill="#6d6d6d" opacity="0.8"/>
<circle cx="108.3" cy="278.1" r="1.3" fill="#898989" opacity="0.8"/>
<circle cx="112.2" cy="278.1" r="1.3" fill="#8a8a8a" opacity="0.8"/>
<circle cx="116.1" cy="278.1" r="1.3" fill="#9d9d9d" opacity="0.8"/>
<circle cx="120.0" cy="278.1" r="1.3" fill="#858585" opacity="0.8"/>
<circle cx="123.9" cy="278.1" r="1.3" fill="#7f7f7f" opacity="0.8"/>
<circle cx="127.8" cy="278.1" r="1.3" fill="#7c7c7c" opacity="0.8"/>
<circle cx="131.7" cy="278.1" r="1.3" fill="#a0a0a0" opacity="0.8"/>
<circle cx="135.6" cy="278.1" r="1.3" fill="#aeaeae" opacity="0.8"/>
<circle cx="139.5" cy="278.1" r="1.3" fill="#919191" opacity="0.8"/>
<circle cx="143.4" cy="278.1" r="1.3" fill="#7b7b7b" opacity="0.8"/>
<circle cx="147.3" cy="278.1" r="1.3" fill="#a4a4a4" opacity="0.8"/>
<circle cx="151.2" cy="278.1" r="1.3" fill="#888888" opacity="0.8"/>
<circle cx="155.1" cy="278.1" r="1.3" fill="#7b7b7b" opacity="0.8"/>
<circle cx="159.0" cy="278.1" r="1.3" fill="#757575" opacity="0.8"/>
<circle cx="162.9" cy="278.1" r="1.3" fill="#a2a2a2" opacity="0.8"/>
<circle cx="166.8" cy="278.1" r="1.3" fill="#a5a5a5" opacity="0.8"/>
<circle cx="170.7" cy="278.1" r="1.3" fill="#999999" opacity="0.8"/>
<circle cx="174.6" cy="278.1" r="1.3" fill="#8d8d8d" opacity="0.8"/>
<circle cx="178.5" cy="278.1" r="1.3" fill="#939393" opacity="0.8"/>
<circle cx="182.4" cy="278.1" r="1.3" fill="#7c7c7c" opacity="0.8"/>
<circle cx="186.3" cy="278.1" r="1.3" fill="#b0b0b0" opacity="0.8"/>
<circle cx="190.2" cy="278.1" r="1.3" fill="#858585" opacity="0.8"/>
<circle cx="194.1" cy="278.1" r="1.3" fill="#999999" opacity="0.8"/>
<circle cx="198.0" cy="278.1" r="1.3" fill="#a5a5a5" opacity="0.8"/>
<circle cx="201.9" cy="278.1" r="1.3" fill="#a5a5a5" opacity="0.8"/>
<circle cx="205.8" cy="278.1" r="1.3" fill="#8d8d8d" opacity="0.8"/>
<circle cx="209.7" cy="278.1" r="1.3" fill="#818181" opacity="0.8"/>
<circle cx="213.6" cy="278.1" r="1.3" fill="#929292" opacity="0.8"/>
<circle cx="217.5" cy="278.1" r="1.3" fill="#757575" opacity="0.8"/>
<circle cx="221.4" cy="278.1" r="1.3" fill="#a6a6a6" opacity="0.8"/>
<circle cx="225.3" cy="278.1" r="1.3" fill="#858585" opacity="0.8"/>
<circle cx="229.2" cy="278.1" r="1.3" fill="#a8a8a8" opacity="0.8"/>
<circle cx="233.1" cy="278.1" r="1.3" fill="#7f7f7f" opacity="0.8"/>
<circle cx="237.0" cy="278.1" r="1.3" fill="#868686" opacity="0.8"/>
<circle cx="240.9" cy="278.1" r="1.3" fill="#7e7e7e" opacity="0.8"/>
<circle cx="244.8" cy="278.1" r="1.3" fill="#8a8a8a" opacity="0.8"/>
<circle cx="248.7" cy="278.1" r="1.3" fill="#797979" opacity="0.8"/>
<circle cx="252.6" cy="278.1" r="1.3" fill="#6c6c6c" opacity="0.8"/>
<circle cx="256.5" cy="278.1" r="1.3" fill="#9f9f9f" opacity="0.8"/>
<circle cx="260.4" cy="278.1" r="1.3" fill="#808080" opacity="0.8"/>
<circle cx="264.3" cy="278.1" r="1.3" fill="#7d7d7d" opacity="0.8"/>
<circle cx="268.2" cy="278.1" r="1.3" fill="#818181" opacity="0.8"/>
<circle cx="272.1" cy="278.1" r="1.3" fill="#8e8e8e" opacity="0.8"/>
<circle cx="276.0" cy="278.1" r="1.3" fill="#8a8a8a" opacity="0.8"/>
<circle cx="279.9" cy="278.1" r="1.3" fill="#999999" opacity="0.8"/>
<circle cx="283.8" cy="278.1" r="1.3" fill="#9a9a9a" opacity="0.8"/>
<circle cx="287.7" cy="278.1" r="1.3" fill="#858585" opacity="0.8"/>
<circle cx="291.6" cy="278.1" r="1.3" fill="#adadad" opacity="0.8"/>
<circle cx="295.5" cy="278.1" r="1.3" fill="#a8a8a8" opacity="0.8"/>
<circle cx="299.4" cy="278.1" r="1.3" fill="#707070" opacity="0.8"/>
<circle cx="303.3" cy="278.1" r="1.3" fill="#a6a6a6" opacity="0.8"/>
<circle cx="307.2" cy="278.1" r="1.3" fill="#acacac" opacity="0.8"/>
<circle cx="311.1" cy="278.1" r="1.3" fill="#a3a3a3" opacity="0.8"/>
<circle cx="315.0" cy="278.1" r="1.3" fill="#767676" opacity="0.8"/>
<circle cx="61.5" cy="282.0" r="1.3" fill="#a3a3a3" opacity="0.8"/>
<circle cx="65.4" cy="282.0" r="1.3" fill="#959595" opacity="0.8"/>
<circle cx="69.3" cy="282.0" r="1.3" fill="#6a6a6a" opacity="0.8"/>
<circle cx="73.2" cy="282.0" r="1.3" fill="#696969" opacity="0.8"/>
<circle cx="77.1" cy="282.0" r="1.3" fill="#ababab" opacity="0.8"/>
<circle cx="81.0" cy="282.0" r="1.3" fill="#979797" opacity="0.8"/>
<circle cx="84.9" cy="282.0" r="1.3" fill="#7a7a7a" opacity="0.8"/>
<circle cx="88.8" cy="282.0" r="1.3" fill="#707070" opacity="0.8"/>
<circle cx="92.7" cy="282.0" r="1.3" fill="#737373" opacity="0.8"/>
<circle cx="96.6" cy="282.0" r="1.3" fill="#797979" opacity="0.8"/>
<circle cx="100.5" cy="282.0" r="1.3" fill="#9f9f9f" opacity="0.8"/>
<circle cx="104.4" cy="282.0" r="1.3" fill="#818181" opacity="0.8"/>
<circle cx="108.3" cy="282.0" r="1.3" fill="#737373" opacity="0.8"/>
<circle cx="112.2" cy="282.0" r="1.3" fill="#a8a8a8" opacity="0.8"/>
<circle cx="116.1" cy="282.0" r="1.3" fill="#a0a0a0" opacity="0.8"/>
<circle cx="120.0" cy="282.0" r="1.3" fill="#747474" opacity="0.8"/>
<circle cx="123.9" cy="282.0" r="1.3" fill="#a7a7a7" opacity="0.8"/>
<circle cx="127.8" cy="282.0" r="1.3" fill="#939393" opacity="0.8"/>
<circle cx="131.7" cy="282.0" r="1.3" fill="#9f9f9f" opacity="0.8"/>
<circle cx="135.6" cy="282.0" r="1.3" fill="#979797" opacity="0.8"/>
<circle cx="139.5" cy="282.0" r="1.3" fill="#a7a7a7" opacity="0.8"/>
<circle cx="143.4" cy="282.0" r="1.3" fill="#a0a0a0" opacity="0.8"/>
<circle cx="147.3" cy="282.0" r="1.3" fill="#a3a3a3" opacity="0.8"/>
<circle cx="151.2" cy="282.0" r="1.3" fill="#767676" opacity="0.8"/>
<circle cx="155.1" cy="282.0" r="1.3" fill="#999999" opacity="0.8"/>
<circle cx="159.0" cy="282.0" r="1.3" fill="#8e8e8e" opacity="0.8"/>
<circle cx="162.9" cy="282.0" r="1.3" fill="#9d9d9d" opacity="0.8"/>
<circle cx="166.8" cy="282.0" r="1.3" fill="#878787" opacity="0.8"/>
<circle cx="170.7" cy="282.0" r="1.3" fill="#a6a6a6" opacity="0.8"/>
<circle cx="174.6" cy="282.0" r="1.3" fill="#8f8f8f" opacity="0.8"/>
<circle cx="178.5" cy="282.0" r="1.3" fill="#7b7b7b" opacity="0.8"/>
<circle cx="182.4" cy="282.0" r="1.3" fill="#797979" opacity="0.8"/>
<circle cx="186.3" cy="282.0" r="1.3" fill="#727272" opacity="0.8"/>
<circle cx="190.2" cy="282.0" r="1.3" fill="#8b8b8b" opacity="0.8"/>
<circle cx="194.1" cy="282.0" r="1.3" fill="#6d6d6d" opacity="0.8"/>
<circle cx="198.0" cy="282.0" r="1.3" fill="#898989" opacity="0.8"/>
<circle cx="201.9" cy="282.0" r="1.3" fill="#737373" opacity="0.8"/>
<circle cx="205.8" cy="282.0" r="1.3" fill="#8b8b8b" opacity="0.8"/>
<circle cx="209.7" cy="282.0" r="1.3" fill="#8b8b8b" opacity="0.8"/>
<circle cx="213.6" cy="282.0" r="1.3" fill="#8e8e8e" opacity="0.8"/>
<circle cx="217.5" cy="282.0" r="1.3" fill="#a5a5a5" opacity="0.8"/>
<circle cx="221.4" cy="282.0" r="1.3" fill="#696969" opacity="0.8"/>
<circle cx="225.3" cy="282.0" r="1.3" fill="#a3a3a3" opacity="0.8"/>
<circle cx="229.2" cy="282.0" r="1.3" fill="#898989" opacity="0.8"/>
<circle cx="233.1" cy="282.0" r="1.3" fill="#909090" opacity="0.8"/>
<circle cx="237.0" cy="282.0" r="1.3" fill="#979797" opacity="0.8"/>
<circle cx="240.9" cy="282.0" r="1.3" fill="#a3a3a3" opacity="0.8"/>
<circle cx="244.8" cy="282.0" r="1.3" fill="#838383" opacity="0.8"/>
<circle cx="248.7" cy="282.0" r="1.3" fill="#868686" opacity="0.8"/>
<circle cx="252.6" cy="282.0" r="1.3" fill="#acacac" opacity="0.8"/>
<circle cx="256.5" cy="282.0" r="1.3" fill="#6e6e6e" opacity="0.8"/>
<circle cx="260.4" cy="282.0" r="1.3" fill="#959595" opacity="0.8"/>
<circle cx="264.3" cy="282.0" r="1.3" fill="#959595" opacity="0.8"/>
<circle cx="268.2" cy="282.0" r="1.3" fill="#6b6b6b" opacity="0.8"/>
<circle cx="272.1" cy="282.0" r="1.3" fill="#939393" opacity="0.8"/>
<circle cx="276.0" cy="282.0" r="1.3" fill="#989898" opacity="0.8"/>
<circle cx="279.9" cy="282.0" r="1.3" fill="#aaaaaa" opacity="0.8"/>
<circle cx="283.8" cy="282.0" r="1.3" fill="#808080" opacity="0.8"/>
<circle cx="287.7" cy="282.0" r="1.3" fill="#adadad" opacity="0.8"/>
<circle cx="291.6" cy="282.0" r="1.3" fill="#8c8c8c" opacity="0.8"/>
<circle cx="295.5" cy="282.0" r="1.3" fill="#8b8b8b" opacity="0.8"/>
<circle cx="299.4" cy="282.0" r="1.3" fill="#a7a7a7" opacity="0.8"/>
<circle cx="303.3" cy="282.0" r="1.3" fill="#6b6b6b" opacity="0.8"/>
<circle cx="307.2" cy="282.0" r="1.3" fill="#9b9b9b" opacity="0.8"/>
<circle cx="311.1" cy="282.0" r="1.3" fill="#949494" opacity="0.8"/>
<circle cx="315.0" cy="282.0" r="1.3" fill="#808080" opacity="0.8"/>
<circle cx="61.5" cy="285.9" r="1.3" fill="#a1a1a1" opacity="0.8"/>
<circle cx="65.4" cy="285.9" r="1.3" fill="#7f7f7f" opacity="0.8"/>
<circle cx="69.3" cy="285.9" r="1.3" fill="#868686" opacity="0.8"/>
<circle cx="73.2" cy="285.9" r="1.3" fill="#8a8a8a" opacity="0.8"/>
<circle cx="77.1" cy="285.9" r="1.3" fill="#9b9b9b" opacity="0.8"/>
<circle cx="81.0" cy="285.9" r="1.3" fill="#747474" opacity="0.8"/>
<circle cx="84.9" cy="285.9" r="1.3" fill="#848484" opacity="0.8"/>
<circle cx="88.8" cy="285.9" r="1.3" fill="#838383" opacity="0.8"/>
<circle cx="92.7" cy="285.9" r="1.3" fill="#8c8c8c" opacity="0.8"/>
<circle cx="96.6" cy="285.9" r="1.3" fill="#9f9f9f" opacity="0.8"/>
<circle cx="100.5" cy="285.9" r="1.3" fill="#7a7a7a" opacity="0.8"/>
<circle cx="104.4" cy="285.9" r="1.3" fill="#9f9f9f" opacity="0.8"/>
<circle cx="108.3" cy="285.9" r="1.3" fill="#818181" opacity="0.8"/>
<circle cx="112.2" cy="285.9" r="1.3" fill="#888888" opacity="0.8"/>
<circle cx="116.1" cy="285.9" r="1.3" fill="#787878" opacity="0.8"/>
<circle cx="120.0" cy="285.9" r="1.3" fill="#898989" opacity="0.8"/>
<circle cx="123.9" cy="285.9" r="1.3" fill="#a9a9a9" opacity="0.8"/>
<circle cx="127.8" cy="285.9" r="1.3" fill="#939393" opacity="0.8"/>
<circle cx="131.7" cy="285.9" r="1.3" fill="#9d9d9d" opacity="0.8"/>
<circle cx="135.6" cy="285.9" r="1.3" fill="#7c7c7c" opacity="0.8"/>
<circle cx="139.5" cy="285.9" r="1.3" fill="#7b7b7b" opacity="0.8"/>
<circle cx="143.4" cy="285.9" r="1.3" fill="#7a7a7a" opacity="0.8"/>
<circle cx="147.3" cy="285.9" r="1.3" fill="#8e8e8e" opacity="0.8"/>
<circle cx="151.2" cy="285.9" r="1.3" fill="#929292" opacity="0.8"/>
<circle cx="155.1" cy="285.9" r="1.3" fill="#9c9c9c" opacity="0.8"/>
<circle cx="159.0" cy="285.9" r="1.3" fill="#686868" opacity="0.8"/>
<circle cx="162.9" cy="285.9" r="1.3" fill="#989898" opacity="0.8"/>
<circle cx="166.8" cy="285.9" r="1.3" fill="#a3a3a3" opacity="0.8"/>
<circle cx="170.7" cy="285.9" r="1.3" fill="#8b8b8b" opacity="0.8"/>
<circle cx="174.6" cy="285.9" r="1.3" fill="#696969" opacity="0.8"/>
<circle cx="178.5" cy="285.9" r="1.3" fill="#7a7a7a" opacity="0.8"/>
<circle cx="182.4" cy="285.9" r="1.3" fill="#666666" opacity="0.8"/>
<circle cx="186.3" cy="285.9" r="1.3" fill="#727272" opacity="0.8"/>
<circle cx="190.2" cy="285.9" r="1.3" fill="#a6a6a6" opacity="0.8"/>
<circle cx="194.1" cy="285.9" r="1.3" fill="#909090" opacity="0.8"/>
<circle cx="198.0" cy="285.9" r="1.3" fill="#939393" opacity="0.8"/>
<circle cx="201.9" cy="285.9" r="1.3" fill="#9c9c9c" opacity="0.8"/>
<circle cx="205.8" cy="285.9" r="1.3" fill="#a5a5a5" opacity="0.8"/>
<circle cx="209.7" cy="285.9" r="1.3" fill="#909090" opacity="0.8"/>
<circle cx="213.6" cy="285.9" r="1.3" fill="#909090" opacity="0.8"/>
<circle cx="217.5" cy="285.9" r="1.3" fill="#919191" opacity="0.8"/>
<circle cx="221.4" cy="285.9" r="1.3" fill="#969696" opacity="0.8"/>
<circle cx="225.3" cy="285.9" r="1.3" fill="#8f8f8f" opacity="0.8"/>
<circle cx="229.2" cy="285.9" r="1.3" fill="#959595" opacity="0.8"/>
<circle cx="233.1" cy="285.9" r="1.3" fill="#747474" opacity="0.8"/>
<circle cx="237.0" cy="285.9" r="1.3" fill="#949494" opacity="0.8"/>
<circle cx="240.9" cy="285.9" r="1.3" fill="#858585" opacity="0.8"/>
<circle cx="244.8" cy="285.9" r="1.3" fill="#9a9a9a" opacity="0.8"/>
<circle cx="248.7" cy="285.9" r="1.3" fill="#6c6c6c" opacity="0.8"/>
<circle cx="252.6" cy="285.9" r="1.3" fill="#727272" opacity="0.8"/>
<circle cx="256.5" cy="285.9" r="1.3" fill="#686868" opacity="0.8"/>
<circle cx="260.4" cy="285.9" r="1.3" fill="#9b9b9b" opacity="0.8"/>
<circle cx="264.3" cy="285.9" r="1.3" fill="#a5a5a5" opacity="0.8"/>
<circle cx="268.2" cy="285.9" r="1.3" fill="#939393" opacity="0.8"/>
<circle cx="272.1" cy="285.9" r="1.3" fill="#7f7f7f" opacity="0.8"/>
<circle cx="276.0" cy="285.9" r="1.3" fill="#9f9f9f" opacity="0.8"/>
<circle cx="279.9" cy="285.9" r="1.3" fill="#9c9c9c" opacity="0.8"/>
<circle cx="283.8" cy="285.9" r="1.3" fill="#8c8c8c" opacity="0.8"/>
<circle cx="287.7" cy="285.9" r="1.3" fill="#777777" opacity="0.8"/>
<circle cx="291.6" cy="285.9" r="1.3" fill="#7a7a7a" opacity="0.8"/>
<circle cx="295.5" cy="285.9" r="1.3" fill="#838383" opacity="0.8"/>
<circle cx="299.4" cy="285.9" r="1.3" fill="#7b7b7b" opacity="0.8"/>
<circle cx="303.3" cy="285.9" r="1.3" fill="#838383" opacity="0.8"/>
<circle cx="307.2" cy="285.9" r="1.3" fill="#929292" opacity="0.8"/>
<circle cx="311.1" cy="285.9" r="1.3" fill="#a6a6a6" opacity="0.8"/>
<circle cx="315.0" cy="285.9" r="1.3" fill="#696969" opacity="0.8"/>
<circle cx="61.5" cy="289.8" r="1.3" fill="#898989" opacity="0.8"/>
<circle cx="65.4" cy="289.8" r="1.3" fill="#646464" opacity="0.8"/>
<circle cx="69.3" cy="289.8" r="1.3" fill="#6a6a6a" opacity="0.8"/>
<circle cx="73.2" cy="289.8" r="1.3" fill="#9a9a9a" opacity="0.8"/>
<circle cx="77.1" cy="289.8" r="1.3" fill="#8a8a8a" opacity="0.8"/>
<circle cx="81.0" cy="289.8" r="1.3" fill="#a2a2a2" opacity="0.8"/>
<circle cx="84.9" cy="289.8" r="1.3" fill="#818181" opacity="0.8"/>
<circle cx="88.8" cy="289.8" r="1.3" fill="#636363" opacity="0.8"/>
<circle cx="92.7" cy="289.8" r="1.3" fill="#7d7d7d" opacity="0.8"/>
<circle cx="96.6" cy="289.8" r="1.3" fill="#8b8b8b" opacity="0.8"/>
<circle cx="100.5" cy="289.8" r="1.3" fill="#a3a3a3" opacity="0.8"/>
<circle cx="104.4" cy="289.8" r="1.3" fill="#a6a6a6" opacity="0.8"/>
<circle cx="108.3" cy="289.8" r="1.3" fill="#838383" opacity="0.8"/>
<circle cx="112.2" cy="289.8" r="1.3" fill="#7e7e7e" opacity="0.8"/>
<circle cx="116.1" cy="289.8" r="1.3" fill="#696969" opacity="0.8"/>
<circle cx="120.0" cy="289.8" r="1.3" fill="#8f8f8f" opacity="0.8"/>
<circle cx="123.9" cy="289.8" r="1.3" fill="#707070" opacity="0.8"/>
<circle cx="127.8" cy="289.8" r="1.3" fill="#6c6c6c" opacity="0.8"/>
<circle cx="131.7" cy="289.8" r="1.3" fill="#636363" opacity="0.8"/>
<circle cx="135.6" cy="289.8" r="1.3" fill="#626262" opacity="0.8"/>
<circle cx="139.5" cy="289.8" r="1.3" fill="#919191" opacity="0.8"/>
<circle cx="143.4" cy="289.8" r="1.3" fill="#6a6a6a" opacity="0.8"/>
<circle cx="147.3" cy="289.8" r="1.3" fill="#a5a5a5" opacity="0.8"/>
<circle cx="151.2" cy="289.8" r="1.3" fill="#686868" opacity="0.8"/>
<circle cx="155.1" cy="289.8" r="1.3" fill="#9e9e9e" opacity="0.8"/>
<circle cx="159.0" cy="289.8" r="1.3" fill="#6b6b6b" opacity="0.8"/>
<circle cx="162.9" cy="289.8" r="1.3" fill="#636363" opacity="0.8"/>
<circle cx="166.8" cy="289.8" r="1.3" fill="#949494" opacity="0.8"/>
<circle cx="170.7" cy="289.8" r="1.3" fill="#737373" opacity="0.8"/>
<circle cx="174.6" cy="289.8" r="1.3" fill="#959595" opacity="0.8"/>
<circle cx="178.5" cy="289.8" r="1.3" fill="#6f6f6f" opacity="0.8"/>
<circle cx="182.4" cy="289.8" r="1.3" fill="#656565" opacity="0.8"/>
<circle cx="186.3" cy="289.8" r="1.3" fill="#989898" opacity="0.8"/>
<circle cx="190.2" cy="289.8" r="1.3" fill="#949494" opacity="0.8"/>
<circle cx="194.1" cy="289.8" r="1.3" fill="#9d9d9d" opacity="0.8"/>
<circle cx="198.0" cy="289.8" r="1.3" fill="#959595" opacity="0.8"/>
<circle cx="201.9" cy="289.8" r="1.3" fill="#676767" opacity="0.8"/>
<circle cx="205.8" cy="289.8" r="1.3" fill="#8e8e8e" opacity="0.8"/>
<circle cx="209.7" cy="289.8" r="1.3" fill="#939393" opacity="0.8"/>
<circle cx="213.6" cy="289.8" r="1.3" fill="#828282" opacity="0.8"/>
<circle cx="217.5" cy="289.8" r="1.3" fill="#a3a3a3" opacity="0.8"/>
<circle cx="221.4" cy="289.8" r="1.3" fill="#737373" opacity="0.8"/>
<circle cx="225.3" cy="289.8" r="1.3" fill="#a5a5a5" opacity="0.8"/>
<circle cx="229.2" cy="289.8" r="1.3" fill="#949494" opacity="0.8"/>
<circle cx="233.1" cy="289.8" r="1.3" fill="#626262" opacity="0.8"/>
<circle cx="237.0" cy="289.8" r="1.3" fill="#636363" opacity="0.8"/>
<circle cx="240.9" cy="289.8" r="1.3" fill="#8f8f8f" opacity="0.8"/>
<circle cx="244.8" cy="289.8" r="1.3" fill="#9b9b9b" opacity="0.8"/>
<circle cx="248.7" cy="289.8" r="1.3" fill="#676767" opacity="0.8"/>
<circle cx="252.6" cy="289.8" r="1.3" fill="#777777" opacity="0.8"/>
<circle cx="256.5" cy="289.8" r="1.3" fill="#959595" opacity="0.8"/>
<circle cx="260.4" cy="289.8" r="1.3" fill="#6d6d6d" opacity="0.8"/>
<circle cx="264.3" cy="289.8" r="1.3" fill="#9e9e9e" opacity="0.8"/>
<circle cx="268.2" cy="289.8" r="1.3" fill="#848484" opacity="0.8"/>
<circle cx="272.1" cy="289.8" r="1.3" fill="#666666" opacity="0.8"/>
<circle cx="276.0" cy="289.8" r="1.3" fill="#7b7b7b" opacity="0.8"/>
<circle cx="279.9" cy="289.8" r="1.3" fill="#8a8a8a" opacity="0.8"/>
<circle cx="283.8" cy="289.8" r="1.3" fill="#808080" opacity="0.8"/>
<circle cx="287.7" cy="289.8" r="1.3" fill="#919191" opacity="0.8"/>
<circle cx="291.6" cy="289.8" r="1.3" fill="#6c6c6c" opacity="0.8"/>
<circle cx="295.5" cy="289.8" r="1.3" fill="#999999" opacity="0.8"/>
<circle cx="299.4" cy="289.8" r="1.3" fill="#7b7b7b" opacity="0.8"/>
<circle cx="303.3" cy="289.8" r="1.3" fill="#8f8f8f" opacity="0.8"/>
<circle cx="307.2" cy="289.8" r="1.3" fill="#8e8e8e" opacity="0.8"/>
<circle cx="311.1" cy="289.8" r="1.3" fill="#7f7f7f" opacity="0.8"/>
<circle cx="315.0" cy="289.8" r="1.3" fill="#7d7d7d" opacity="0.8"/>
<circle cx="61.5" cy="293.7" r="1.3" fill="#959595" opacity="0.8"/>
<circle cx="65.4" cy="293.7" r="1.3" fill="#a0a0a0" opacity="0.8"/>
<circle cx="69.3" cy="293.7" r="1.3" fill="#959595" opacity="0.8"/>
<circle cx="73.2" cy="293.7" r="1.3" fill="#868686" opacity="0.8"/>
<circle cx="77.1" cy="293.7" r="1.3" fill="#737373" opacity="0.8"/>
<circle cx="81.0" cy="293.7" r="1.3" fill="#626262" opacity="0.8"/>
<circle cx="84.9" cy="293.7" r="1.3" fill="#a2a2a2" opacity="0.8"/>
<circle cx="88.8" cy="293.7" r="1.3" fill="#8f8f8f" opacity="0.8"/>
<circle cx="92.7" cy="293.7" r="1.3" fill="#989898" opacity="0.8"/>
<circle cx="96.6" cy="293.7" r="1.3" fill="#757575" opacity="0.8"/>
<circle cx="100.5" cy="293.7" r="1.3" fill="#888888" opacity="0.8"/>
<circle cx="104.4" cy="293.7" r="1.3" fill="#a2a2a2" opacity="0.8"/>
<circle cx="108.3" cy="293.7" r="1.3" fill="#989898" opacity="0.8"/>
<circle cx="112.2" cy="293.7" r="1.3" fill="#888888" opacity="0.8"/>
<circle cx="116.1" cy="293.7" r="1.3" fill="#747474" opacity="0.8"/>
<circle cx="120.0" cy="293.7" r="1.3" fill="#7c7c7c" opacity="0.8"/>
<circle cx="123.9" cy="293.7" r="1.3" fill="#9c9c9c" opacity="0.8"/>
<circle cx="127.8" cy="293.7" r="1.3" fill="#787878" opacity="0.8"/>
<circle cx="131.7" cy="293.7" r="1.3" fill="#8e8e8e" opacity="0.8"/>
<circle cx="135.6" cy="293.7" r="1.3" fill="#888888" opacity="0.8"/>
<circle cx="139.5" cy="293.7" r="1.3" fill="#9d9d9d" opacity="0.8"/>
<circle cx="143.4" cy="293.7" r="1.3" fill="#979797" opacity="0.8"/>
<circle cx="147.3" cy="293.7" r="1.3" fill="#727272" opacity="0.8"/>
<circle cx="151.2" cy="293.7" r="1.3" fill="#5e5e5e" opacity="0.8"/>
<circle cx="155.1" cy="293.7" r="1.3" fill="#707070" opacity="0.8"/>
<circle cx="159.0" cy="293.7" r="1.3" fill="#7c7c7c" opacity="0.8"/>
<circle cx="162.9" cy="293.7" r="1.3" fill="#878787" opacity="0.8"/>
<circle cx="166.8" cy="293.7" r="1.3" fill="#979797" opacity="0.8"/>
<circle cx="170.7" cy="293.7" r="1.3" fill="#9c9c9c" opacity="0.8"/>
<circle cx="174.6" cy="293.7" r="1.3" fill="#616161" opacity="0.8"/>
<circle cx="178.5" cy="293.7" r="1.3" fill="#989898" opacity="0.8"/>
<circle cx="182.4" cy="293.7" r="1.3" fill="#979797" opacity="0.8"/>
<circle cx="186.3" cy="293.7" r="1.3" fill="#9b9b9b" opacity="0.8"/>
<circle cx="190.2" cy="293.7" r="1.3" fill="#868686" opacity="0.8"/>
<circle cx="194.1" cy="293.7" r="1.3" fill="#717171" opacity="0.8"/>
<circle cx="198.0" cy="293.7" r="1.3" fill="#9a9a9a" opacity="0.8"/>
<circle cx="201.9" cy="293.7" r="1.3" fill="#979797" opacity="0.8"/>
<circle cx="205.8" cy="293.7" r="1.3" fill="#8e8e8e" opacity="0.8"/>
<circle cx="209.7" cy="293.7" r="1.3" fill="#9e9e9e" opacity="0.8"/>
<circle cx="213.6" cy="293.7" r="1.3" fill="#767676" opacity="0.8"/>
<circle cx="217.5" cy="293.7" r="1.3" fill="#646464" opacity="0.8"/>
<circle cx="221.4" cy="293.7" r="1.3" fill="#858585" opacity="0.8"/>
<circle cx="225.3" cy="293.7" r="1.3" fill="#969696" opacity="0.8"/>
<circle cx="229.2" cy="293.7" r="1.3" fill="#6c6c6c" opacity="0.8"/>
<circle cx="233.1" cy="293.7" r="1.3" fill="#939393" opacity="0.8"/>
<circle cx="237.0" cy="293.7" r="1.3" fill="#9f9f9f" opacity="0.8"/>
<circle cx="240.9" cy="293.7" r="1.3" fill="#6e6e6e" opacity="0.8"/>
<circle cx="244.8" cy="293.7" r="1.3" fill="#898989" opacity="0.8"/>
<circle cx="248.7" cy="293.7" r="1.3" fill="#8e8e8e" opacity="0.8"/>
<circle cx="252.6" cy="293.7" r="1.3" fill="#7f7f7f" opacity="0.8"/>
<circle cx="256.5" cy="293.7" r="1.3" fill="#6d6d6d" opacity="0.8"/>
<circle cx="260.4" cy="293.7" r="1.3" fill="#707070" opacity="0.8"/>
<circle cx="264.3" cy="293.7" r="1.3" fill="#939393" opacity="0.8"/>
<circle cx="268.2" cy="293.7" r="1.3" fill="#959595" opacity="0.8"/>
<circle cx="272.1" cy="293.7" r="1.3" fill="#7e7e7e" opacity="0.8"/>
<circle cx="276.0" cy="293.7" r="1.3" fill="#646464" opacity="0.8"/>
<circle cx="279.9" cy="293.7" r="1.3" fill="#979797" opacity="0.8"/>
<circle cx="283.8" cy="293.7" r="1.3" fill="#949494" opacity="0.8"/>
<circle cx="287.7" cy="293.7" r="1.3" fill="#6e6e6e" opacity="0.8"/>
<circle cx="291.6" cy="293.7" r="1.3" fill="#878787" opacity="0.8"/>
<circle cx="295.5" cy="293.7" r="1.3" fill="#9d9d9d" opacity="0.8"/>
<circle cx="299.4" cy="293.7" r="1.3" fill="#9c9c9c" opacity="0.8"/>
<circle cx="303.3" cy="293.7" r="1.3" fill="#838383" opacity="0.8"/>
<circle cx="307.2" cy="293.7" r="1.3" fill="#7f7f7f" opacity="0.8"/>
<circle cx="311.1" cy="293.7" r="1.3" fill="#878787" opacity="0.8"/>
<circle cx="315.0" cy="293.7" r="1.3" fill="#6b6b6b" opacity="0.8"/>
<circle cx="61.5" cy="297.6" r="1.3" fill="#686868" opacity="0.8"/>
<circle cx="65.4" cy="297.6" r="1.3" fill="#676767" opacity="0.8"/>
<circle cx="69.3" cy="297.6" r="1.3" fill="#8c8c8c" opacity="0.8"/>
<circle cx="73.2" cy="297.6" r="1.3" fill="#747474" opacity="0.8"/>
<circle cx="77.1" cy="297.6" r="1.3" fill="#828282" opacity="0.8"/>
<circle cx="81.0" cy="297.6" r="1.3" fill="#777777" opacity="0.8"/>
<circle cx="84.9" cy="297.6" r="1.3" fill="#7f7f7f" opacity="0.8"/>
<circle cx="88.8" cy="297.6" r="1.3" fill="#656565" opacity="0.8"/>
<circle cx="92.7" cy="297.6" r="1.3" fill="#5e5e5e" opacity="0.8"/>
<circle cx="96.6" cy="297.6" r="1.3" fill="#a0a0a0" opacity="0.8"/>
<circle cx="100.5" cy="297.6" r="1.3" fill="#757575" opacity="0.8"/>
<circle cx="104.4" cy="297.6" r="1.3" fill="#626262" opacity="0.8"/>
<circle cx="108.3" cy="297.6" r="1.3" fill="#878787" opacity="0.8"/>
<circle cx="112.2" cy="297.6" r="1.3" fill="#929292" opacity="0.8"/>
<circle cx="116.1" cy="297.6" r="1.3" fill="#656565" opacity="0.8"/>
<circle cx="120.0" cy="297.6" r="1.3" fill="#848484" opacity="0.8"/>
<circle cx="123.9" cy="297.6" r="1.3" fill="#737373" opacity="0.8"/>
<circle cx="127.8" cy="297.6" r="1.3" fill="#7f7f7f" opacity="0.8"/>
<circle cx="131.7" cy="297.6" r="1.3" fill="#5c5c5c" opacity="0.8"/>
<circle cx="135.6" cy="297.6" r="1.3" fill="#5d5d5d" opacity="0.8"/>
<circle cx="139.5" cy="297.6" r="1.3" fill="#a0a0a0" opacity="0.8"/>
<circle cx="143.4" cy="297.6" r="1.3" fill="#979797" opacity="0.8"/>
<circle cx="147.3" cy="297.6" r="1.3" fill="#7d7d7d" opacity="0.8"/>
<circle cx="151.2" cy="297.6" r="1.3" fill="#828282" opacity="0.8"/>
<circle cx="155.1" cy="297.6" r="1.3" fill="#6d6d6d" opacity="0.8"/>
<circle cx="159.0" cy="297.6" r="1.3" fill="#919191" opacity="0.8"/>
<circle cx="162.9" cy="297.6" r="1.3" fill="#787878" opacity="0.8"/>
<circle cx="166.8" cy="297.6" r="1.3" fill="#9d9d9d" opacity="0.8"/>
<circle cx="170.7" cy="297.6" r="1.3" fill="#909090" opacity="0.8"/>
<circle cx="174.6" cy="297.6" r="1.3" fill="#949494" opacity="0.8"/>
<circle cx="178.5" cy="297.6" r="1.3" fill="#9e9e9e" opacity="0.8"/>
<circle cx="182.4" cy="297.6" r="1.3" fill="#6c6c6c" opacity="0.8"/>
<circle cx="186.3" cy="297.6" r="1.3" fill="#5d5d5d" opacity="0.8"/>
<circle cx="190.2" cy="297.6" r="1.3" fill="#696969" opacity="0.8"/>
<circle cx="194.1" cy="297.6" r="1.3" fill="#676767" opacity="0.8"/>
<circle cx="198.0" cy="297.6" r="1.3" fill="#606060" opacity="0.8"/>
<circle cx="201.9" cy="297.6" r="1.3" fill="#5e5e5e" opacity="0.8"/>
<circle cx="205.8" cy="297.6" r="1.3" fill="#828282" opacity="0.8"/>
<circle cx="209.7" cy="297.6" r="1.3" fill="#989898" opacity="0.8"/>
<circle cx="213.6" cy="297.6" r="1.3" fill="#7b7b7b" opacity="0.8"/>
<circle cx="217.5" cy="297.6" r="1.3" fill="#9d9d9d" opacity="0.8"/>
<circle cx="221.4" cy="297.6" r="1.3" fill="#9a9a9a" opacity="0.8"/>
<circle cx="225.3" cy="297.6" r="1.3" fill="#5f5f5f" opacity="0.8"/>
<circle cx="229.2" cy="297.6" r="1.3" fill="#848484" opacity="0.8"/>
<circle cx="233.1" cy="297.6" r="1.3" fill="#767676" opacity="0.8"/>
<circle cx="237.0" cy="297.6" r="1.3" fill="#636363" opacity="0.8"/>
<circle cx="240.9" cy="297.6" r="1.3" fill="#9e9e9e" opacity="0.8"/>
<circle cx="244.8" cy="297.6" r="1.3" fill="#6d6d6d" opacity="0.8"/>
<circle cx="248.7" cy="297.6" r="1.3" fill="#828282" opacity="0.8"/>
<circle cx="252.6" cy="297.6" r="1.3" fill="#878787" opacity="0.8"/>
<circle cx="256.5" cy="297.6" r="1.3" fill="#9e9e9e" opacity="0.8"/>
<circle cx="260.4" cy="297.6" r="1.3" fill="#898989" opacity="0.8"/>
<circle cx="264.3" cy="297.6" r="1.3" fill="#767676" opacity="0.8"/>
<circle cx="268.2" cy="297.6" r="1.3" fill="#7a7a7a" opacity="0.8"/>
<circle cx="272.1" cy="297.6" r="1.3" fill="#666666" opacity="0.8"/>
<circle cx="276.0" cy="297.6" r="1.3" fill="#9e9e9e" opacity="0.8"/>
<circle cx="279.9" cy="297.6" r="1.3" fill="#a0a0a0" opacity="0.8"/>
<circle cx="283.8" cy="297.6" r="1.3" fill="#6a6a6a" opacity="0.8"/>
<circle cx="287.7" cy="297.6" r="1.3" fill="#5d5d5d" opacity="0.8"/>
<circle cx="291.6" cy="297.6" r="1.3" fill="#6c6c6c" opacity="0.8"/>
<circle cx="295.5" cy="297.6" r="1.3" fill="#737373" opacity="0.8"/>
<circle cx="299.4" cy="297.6" r="1.3" fill="#9a9a9a" opacity="0.8"/>
<circle cx="303.3" cy="297.6" r="1.3" fill="#9a9a9a" opacity="0.8"/>
<circle cx="307.2" cy="297.6" r="1.3" fill="#959595" opacity="0.8"/>
<circle cx="311.1" cy="297.6" r="1.3" fill="#5e5e5e" opacity="0.8"/>
<circle cx="315.0" cy="297.6" r="1.3" fill="#929292" opacity="0.8"/>
<circle cx="61.5" cy="301.5" r="1.3" fill="#898989" opacity="0.8"/>
<circle cx="65.4" cy="301.5" r="1.3" fill="#848484" opacity="0.8"/>
<circle cx="69.3" cy="301.5" r="1.3" fill="#9c9c9c" opacity="0.8"/>
<circle cx="73.2" cy="301.5" r="1.3" fill="#5b5b5b" opacity="0.8"/>
<circle cx="77.1" cy="301.5" r="1.3" fill="#616161" opacity="0.8"/>
<circle cx="81.0" cy="301.5" r="1.3" fill="#8c8c8c" opacity="0.8"/>
<circle cx="84.9" cy="301.5" r="1.3" fill="#999999" opacity="0.8"/>
<circle cx="88.8" cy="301.5" r="1.3" fill="#868686" opacity="0.8"/>
<circle cx="92.7" cy="301.5" r="1.3" fill="#6c6c6c" opacity="0.8"/>
<circle cx="96.6" cy="301.5" r="1.3" fill="#808080" opacity="0.8"/>
<circle cx="100.5" cy="301.5" r="1.3" fill="#8c8c8c" opacity="0.8"/>
<circle cx="104.4" cy="301.5" r="1.3" fill="#5e5e5e" opacity="0.8"/>
<circle cx="108.3" cy="301.5" r="1.3" fill="#6e6e6e" opacity="0.8"/>
<circle cx="112.2" cy="301.5" r="1.3" fill="#696969" opacity="0.8"/>
<circle cx="116.1" cy="301.5" r="1.3" fill="#606060" opacity="0.8"/>
<circle cx="120.0" cy="301.5" r="1.3" fill="#797979" opacity="0.8"/>
<circle cx="123.9" cy="301.5" r="1.3" fill="#636363" opacity="0.8"/>
<circle cx="127.8" cy="301.5" r="1.3" fill="#686868" opacity="0.8"/>
<circle cx="131.7" cy="301.5" r="1.3" fill="#616161" opacity="0.8"/>
<circle cx="135.6" cy="301.5" r="1.3" fill="#868686" opacity="0.8"/>
<circle cx="139.5" cy="301.5" r="1.3" fill="#585858" opacity="0.8"/>
<circle cx="143.4" cy="301.5" r="1.3" fill="#898989" opacity="0.8"/>
<circle cx="147.3" cy="301.5" r="1.3" fill="#656565" opacity="0.8"/>
<circle cx="151.2" cy="301.5" r="1.3" fill="#5a5a5a" opacity="0.8"/>
<circle cx="155.1" cy="301.5" r="1.3" fill="#989898" opacity="0.8"/>
<circle cx="159.0" cy="301.5" r="1.3" fill="#666666" opacity="0.8"/>
<circle cx="162.9" cy="301.5" r="1.3" fill="#989898" opacity="0.8"/>
<circle cx="166.8" cy="301.5" r="1.3" fill="#949494" opacity="0.8"/>
<circle cx="170.7" cy="301.5" r="1.3" fill="#959595" opacity="0.8"/>
<circle cx="174.6" cy="301.5" r="1.3" fill="#616161" opacity="0.8"/>
<circle cx="178.5" cy="301.5" r="1.3" fill="#767676" opacity="0.8"/>
<circle cx="182.4" cy="301.5" r="1.3" fill="#5e5e5e" opacity="0.8"/>
<circle cx="186.3" cy="301.5" r="1.3" fill="#989898" opacity="0.8"/>
<circle cx="190.2" cy="301.5" r="1.3" fill="#929292" opacity="0.8"/>
<circle cx="194.1" cy="301.5" r="1.3" fill="#838383" opacity="0.8"/>
<circle cx="198.0" cy="301.5" r="1.3" fill="#777777" opacity="0.8"/>
<circle cx="201.9" cy="301.5" r="1.3" fill="#6f6f6f" opacity="0.8"/>
<circle cx="205.8" cy="301.5" r="1.3" fill="#919191" opacity="0.8"/>
<circle cx="209.7" cy="301.5" r="1.3" fill="#787878" opacity="0.8"/>
<circle cx="213.6" cy="301.5" r="1.3" fill="#838383" opacity="0.8"/>
<circle cx="217.5" cy="301.5" r="1.3" fill="#616161" opacity="0.8"/>
<circle cx="221.4" cy="301.5" r="1.3" fill="#676767" opacity="0.8"/>
<circle cx="225.3" cy="301.5" r="1.3" fill="#5b5b5b" opacity="0.8"/>
<circle cx="229.2" cy="301.5" r="1.3" fill="#898989" opacity="0.8"/>
<circle cx="233.1" cy="301.5" r="1.3" fill="#7e7e7e" opacity="0.8"/>
<circle cx="237.0" cy="301.5" r="1.3" fill="#616161" opacity="0.8"/>
<circle cx="240.9" cy="301.5" r="1.3" fill="#949494" opacity="0.8"/>
<circle cx="244.8" cy="301.5" r="1.3" fill="#6a6a6a" opacity="0.8"/>
<circle cx="248.7" cy="301.5" r="1.3" fill="#747474" opacity="0.8"/>
<circle cx="252.6" cy="301.5" r="1.3" fill="#626262" opacity="0.8"/>
<circle cx="256.5" cy="301.5" r="1.3" fill="#6a6a6a" opacity="0.8"/>
<circle cx="260.4" cy="301.5" r="1.3" fill="#929292" opacity="0.8"/>
<circle cx="264.3" cy="301.5" r="1.3" fill="#6e6e6e" opacity="0.8"/>
<circle cx="268.2" cy="301.5" r="1.3" fill="#636363" opacity="0.8"/>
<circle cx="272.1" cy="301.5" r="1.3" fill="#797979" opacity="0.8"/>
<circle cx="276.0" cy="301.5" r="1.3" fill="#6d6d6d" opacity="0.8"/>
<circle cx="279.9" cy="301.5" r="1.3" fill="#969696" opacity="0.8"/>
<circle cx="283.8" cy="301.5" r="1.3" fill="#5f5f5f" opacity="0.8"/>
<circle cx="287.7" cy="301.5" r="1.3" fill="#9c9c9c" opacity="0.8"/>
<circle cx="291.6" cy="301.5" r="1.3" fill="#5b5b5b" opacity="0.8"/>
<circle cx="295.5" cy="301.5" r="1.3" fill="#969696" opacity="0.8"/>
<circle cx="299.4" cy="301.5" r="1.3" fill="#868686" opacity="0.8"/>
<circle cx="303.3" cy="301.5" r="1.3" fill="#666666" opacity="0.8"/>
<circle cx="307.2" cy="301.5" r="1.3" fill="#787878" opacity="0.8"/>
<circle cx="311.1" cy="301.5" r="1.3" fill="#6b6b6b" opacity="0.8"/>
<circle cx="315.0" cy="301.5" r="1.3" fill="#696969" opacity="0.8"/>
<path d="M79,271 q-0.5,18 2.9,36" stroke="#c0c0c0" stroke-width="1.8" fill="none" opacity="0.6"/>
<path d="M80.5,271 q1.7,18 -2.4,36" stroke="#c0c0c0" stroke-width="3.0" fill="none" opacity="0.6"/>
<path d="M106,271 q1.6,18 -2.7,36" stroke="#c0c0c0" stroke-width="1.9" fill="none" opacity="0.6"/>
<path d="M110,271 q-0.8,18 2.9,36" stroke="#c0c0c0" stroke-width="2.6" fill="none" opacity="0.6"/>
<path d="M153,271 q1.2,18 -1.0,36" stroke="#c0c0c0" stroke-width="1.5" fill="none" opacity="0.6"/>
<path d="M154.5,271 q-2.0,18 2.0,36" stroke="#c0c0c0" stroke-width="1.7" fill="none" opacity="0.6"/>
<path d="M160,271 q-1.3,18 -0.4,36" stroke="#c0c0c0" stroke-width="2.3" fill="none" opacity="0.6"/>
<path d="M182,271 q-1.1,18 0.4,36" stroke="#c0c0c0" stroke-width="2.9" fill="none" opacity="0.6"/>
<path d="M222,271 q-1.3,18 1.6,36" stroke="#c0c0c0" stroke-width="1.7" fill="none" opacity="0.6"/>
<path d="M241,271 q-1.2,18 -2.5,36" stroke="#c0c0c0" stroke-width="2.6" fill="none" opacity="0.6"/>
<path d="M262,271 q0.4,18 -0.0,36" stroke="#c0c0c0" stroke-width="1.6" fill="none" opacity="0.6"/>
<path d="M274,271 q-1.2,18 0.7,36" stroke="#c0c0c0" stroke-width="1.9" fill="none" opacity="0.6"/>
<path d="M296,271 q1.2,18 0.5,36" stroke="#c0c0c0" stroke-width="2.6" fill="none" opacity="0.6"/>
<path d="M297.5,271 q-1.7,18 1.4,36" stroke="#c0c0c0" stroke-width="1.8" fill="none" opacity="0.6"/>
<path d="M308,271 q0.9,18 -2.7,36" stroke="#c0c0c0" stroke-width="2.1" fill="none" opacity="0.6"/>
<line x1="109" y1="307.5" x2="123" y2="307.5" stroke="#b4b4b4" stroke-width="1.6"/>
<line x1="138" y1="308" x2="147.5" y2="308" stroke="#b4b4b4" stroke-width="1.6"/>
<line x1="159" y1="307.5" x2="166.5" y2="307.5" stroke="#b4b4b4" stroke-width="1.6"/>
<line x1="186" y1="307" x2="196" y2="307" stroke="#b4b4b4" stroke-width="1.6"/>
<line x1="270" y1="307.5" x2="284" y2="307.5" stroke="#b4b4b4" stroke-width="1.6"/>
<line x1="300" y1="307" x2="312" y2="307" stroke="#b4b4b4" stroke-width="1.6"/>
<rect x="60" y="397.5" width="257" height="19.30000000000001" fill="#5c5c5c"/>
</g>
<rect x="60" y="271" width="257" height="144.8" fill="#fff" filter="url(#nz)" opacity="0.18"/>
<rect x="60" y="271" width="257" height="144.8" fill="#000" filter="url(#nzd)" opacity="0.18"/>
<rect x="60" y="242" width="257" height="29" fill="#0d0d0d"/>
<ellipse cx="114" cy="271" rx="3.5" ry="3.5" fill="#8a8a8a"/>
<ellipse cx="128" cy="271" rx="1.1" ry="1.6" fill="#8a8a8a"/>
<ellipse cx="291" cy="271" rx="1.5" ry="2.2" fill="#8a8a8a"/>
<rect x="60" y="415.8" width="257" height="19.19999999999999" fill="#060606"/>
<g font-family="Liberation Mono" font-size="6.6" fill="#e8e8e8">
<text x="75.3" y="425.4">SE</text>
<text x="99.6" y="425.4" textLength="35.5" lengthAdjust="spacingAndGlyphs">03-Jun-08</text>
<text x="159.6" y="425.4" textLength="24" lengthAdjust="spacingAndGlyphs">s-4300</text>
<text x="187.6" y="425.4" textLength="26.5" lengthAdjust="spacingAndGlyphs">WD17.5mm</text>
<text x="223.8" y="425.4" textLength="18.8" lengthAdjust="spacingAndGlyphs">15.0kV</text>
<text x="245.3" y="425.4" textLength="12.5" lengthAdjust="spacingAndGlyphs">x12k</text>
<text x="278" y="425.4" textLength="20.8" lengthAdjust="spacingAndGlyphs">2.5um</text>
</g>
<rect x="240" y="417.8" width="1" height="1" fill="#aaa"/>
<rect x="244" y="417.8" width="1" height="1" fill="#aaa"/>
<rect x="248" y="417.8" width="1" height="1" fill="#aaa"/>
<rect x="252" y="417.8" width="1" height="1" fill="#aaa"/>
<rect x="256" y="417.8" width="1" height="1" fill="#aaa"/>
<rect x="266" y="417.8" width="1" height="1" fill="#aaa"/>
<rect x="272" y="417.8" width="1" height="1" fill="#aaa"/>
<rect x="278" y="417.8" width="1" height="1" fill="#aaa"/>
<rect x="284" y="417.8" width="1" height="1" fill="#aaa"/>
<rect x="290" y="417.8" width="1" height="1" fill="#aaa"/>
<rect x="296" y="417.8" width="1" height="1" fill="#aaa"/>
</g>
</svg>
</body></html>
